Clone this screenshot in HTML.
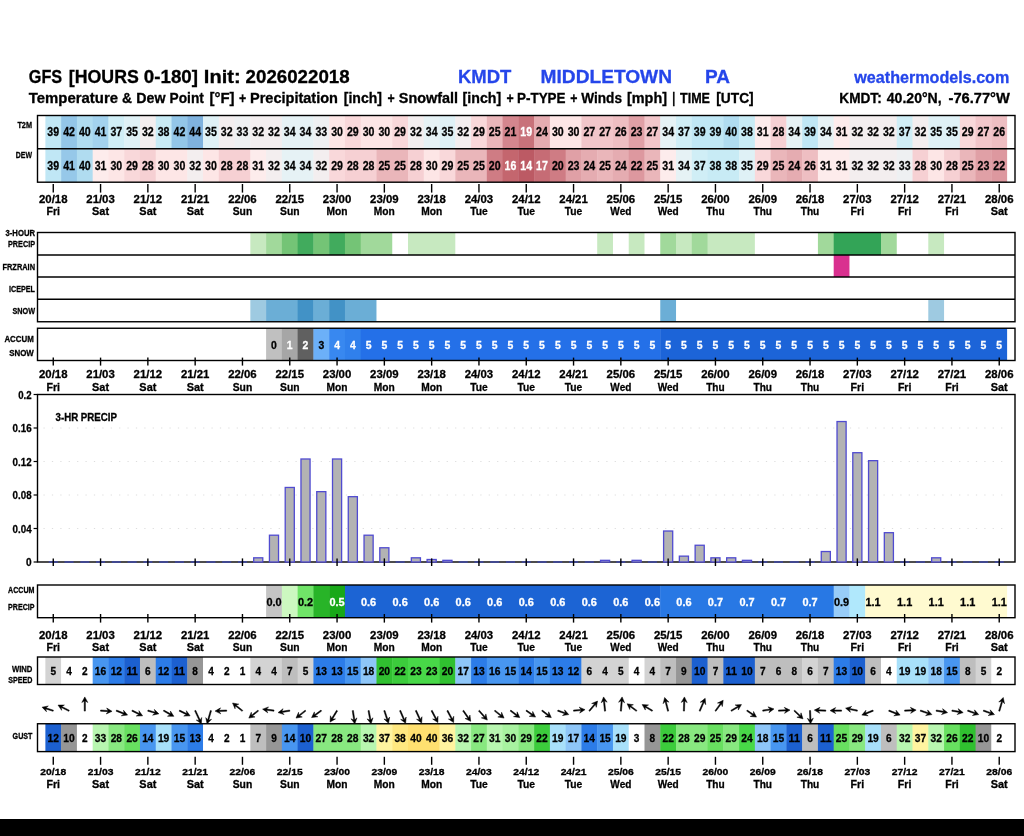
<!DOCTYPE html>
<html lang="en">
<head>
<meta charset="utf-8">
<title>GFS Meteogram KMDT Middletown PA</title>
<style>
html,body{margin:0;padding:0;background:#fff;}
body{width:1024px;height:836px;overflow:hidden;}
svg{display:block;}
svg text{font-family:"Liberation Sans", "DejaVu Sans", sans-serif;}
</style>
</head>
<body>
<svg width="1024" height="836" viewBox="0 0 1024 836">
<rect x="0" y="0" width="1024" height="836" fill="#fff"/>
<rect x="0" y="819" width="1024" height="17" fill="#000"/>
<text x="28.80" y="83.00" font-size="18.6" text-anchor="start" fill="#000" font-weight="bold" textLength="33.40" lengthAdjust="spacingAndGlyphs" stroke="#000" stroke-width="0.3">GFS</text>
<text x="68.80" y="83.00" font-size="18.6" text-anchor="start" fill="#000" font-weight="bold" textLength="70.00" lengthAdjust="spacingAndGlyphs" stroke="#000" stroke-width="0.3">[HOURS</text>
<text x="143.80" y="83.00" font-size="18.6" text-anchor="start" fill="#000" font-weight="bold" textLength="54.20" lengthAdjust="spacingAndGlyphs" stroke="#000" stroke-width="0.3">0-180]</text>
<text x="203.80" y="83.00" font-size="18.6" text-anchor="start" fill="#000" font-weight="bold" textLength="36.80" lengthAdjust="spacingAndGlyphs" stroke="#000" stroke-width="0.3">Init:</text>
<text x="245.60" y="83.00" font-size="18.6" text-anchor="start" fill="#000" font-weight="bold" textLength="104.00" lengthAdjust="spacingAndGlyphs" stroke="#000" stroke-width="0.3">2026022018</text>
<text x="458.00" y="83.00" font-size="18.6" text-anchor="start" fill="#2546ea" font-weight="bold" textLength="53.40" lengthAdjust="spacingAndGlyphs" stroke="#2546ea" stroke-width="0.3">KMDT</text>
<text x="540.60" y="83.00" font-size="18.6" text-anchor="start" fill="#2546ea" font-weight="bold" textLength="131.40" lengthAdjust="spacingAndGlyphs" stroke="#2546ea" stroke-width="0.3">MIDDLETOWN</text>
<text x="705.00" y="83.00" font-size="18.6" text-anchor="start" fill="#2546ea" font-weight="bold" textLength="25.00" lengthAdjust="spacingAndGlyphs" stroke="#2546ea" stroke-width="0.3">PA</text>
<text x="854.30" y="83.00" font-size="16.4" text-anchor="start" fill="#2546ea" font-weight="bold" textLength="155.00" lengthAdjust="spacingAndGlyphs" stroke="#2546ea" stroke-width="0.3">weathermodels.com</text>
<text x="28.80" y="103.20" font-size="14" text-anchor="start" fill="#000" font-weight="bold" textLength="89.20" lengthAdjust="spacingAndGlyphs" stroke="#000" stroke-width="0.3">Temperature</text>
<text x="122.00" y="103.20" font-size="14" text-anchor="start" fill="#000" font-weight="bold" textLength="10.00" lengthAdjust="spacingAndGlyphs" stroke="#000" stroke-width="0.3">&amp;</text>
<text x="136.30" y="103.20" font-size="14" text-anchor="start" fill="#000" font-weight="bold" textLength="29.20" lengthAdjust="spacingAndGlyphs" stroke="#000" stroke-width="0.3">Dew</text>
<text x="169.60" y="103.20" font-size="14" text-anchor="start" fill="#000" font-weight="bold" textLength="34.20" lengthAdjust="spacingAndGlyphs" stroke="#000" stroke-width="0.3">Point</text>
<text x="209.50" y="103.20" font-size="14" text-anchor="start" fill="#000" font-weight="bold" textLength="25.00" lengthAdjust="spacingAndGlyphs" stroke="#000" stroke-width="0.3">[°F]</text>
<text x="239.00" y="103.20" font-size="14" text-anchor="start" fill="#000" font-weight="bold" textLength="7.20" lengthAdjust="spacingAndGlyphs" stroke="#000" stroke-width="0.3">+</text>
<text x="250.00" y="103.20" font-size="14" text-anchor="start" fill="#000" font-weight="bold" textLength="88.00" lengthAdjust="spacingAndGlyphs" stroke="#000" stroke-width="0.3">Precipitation</text>
<text x="343.80" y="103.20" font-size="14" text-anchor="start" fill="#000" font-weight="bold" textLength="38.20" lengthAdjust="spacingAndGlyphs" stroke="#000" stroke-width="0.3">[inch]</text>
<text x="387.60" y="103.20" font-size="14" text-anchor="start" fill="#000" font-weight="bold" textLength="7.20" lengthAdjust="spacingAndGlyphs" stroke="#000" stroke-width="0.3">+</text>
<text x="398.80" y="103.20" font-size="14" text-anchor="start" fill="#000" font-weight="bold" textLength="59.20" lengthAdjust="spacingAndGlyphs" stroke="#000" stroke-width="0.3">Snowfall</text>
<text x="462.60" y="103.20" font-size="14" text-anchor="start" fill="#000" font-weight="bold" textLength="38.60" lengthAdjust="spacingAndGlyphs" stroke="#000" stroke-width="0.3">[inch]</text>
<text x="506.40" y="103.20" font-size="14" text-anchor="start" fill="#000" font-weight="bold" textLength="7.20" lengthAdjust="spacingAndGlyphs" stroke="#000" stroke-width="0.3">+</text>
<text x="517.00" y="103.20" font-size="14" text-anchor="start" fill="#000" font-weight="bold" textLength="48.50" lengthAdjust="spacingAndGlyphs" stroke="#000" stroke-width="0.3">P-TYPE</text>
<text x="570.20" y="103.20" font-size="14" text-anchor="start" fill="#000" font-weight="bold" textLength="7.20" lengthAdjust="spacingAndGlyphs" stroke="#000" stroke-width="0.3">+</text>
<text x="581.30" y="103.20" font-size="14" text-anchor="start" fill="#000" font-weight="bold" textLength="40.70" lengthAdjust="spacingAndGlyphs" stroke="#000" stroke-width="0.3">Winds</text>
<text x="627.00" y="103.20" font-size="14" text-anchor="start" fill="#000" font-weight="bold" textLength="40.00" lengthAdjust="spacingAndGlyphs" stroke="#000" stroke-width="0.3">[mph]</text>
<text x="672.20" y="103.20" font-size="14" text-anchor="start" fill="#000" font-weight="bold" textLength="3.00" lengthAdjust="spacingAndGlyphs" stroke="#000" stroke-width="0.3">|</text>
<text x="680.00" y="103.20" font-size="14" text-anchor="start" fill="#000" font-weight="bold" textLength="30.00" lengthAdjust="spacingAndGlyphs" stroke="#000" stroke-width="0.3">TIME</text>
<text x="716.30" y="103.20" font-size="14" text-anchor="start" fill="#000" font-weight="bold" textLength="37.40" lengthAdjust="spacingAndGlyphs" stroke="#000" stroke-width="0.3">[UTC]</text>
<text x="839.30" y="103.20" font-size="14" text-anchor="start" fill="#000" font-weight="bold" textLength="42.40" lengthAdjust="spacingAndGlyphs" stroke="#000" stroke-width="0.3">KMDT:</text>
<text x="886.80" y="103.20" font-size="14" text-anchor="start" fill="#000" font-weight="bold" textLength="54.90" lengthAdjust="spacingAndGlyphs" stroke="#000" stroke-width="0.3">40.20°N,</text>
<text x="948.50" y="103.20" font-size="14" text-anchor="start" fill="#000" font-weight="bold" textLength="61.30" lengthAdjust="spacingAndGlyphs" stroke="#000" stroke-width="0.3">-76.77°W</text>
<rect x="45.38" y="115.50" width="16.17" height="33.25" fill="#c0e7f5"/>
<rect x="61.15" y="115.50" width="16.17" height="33.25" fill="#93c6e8"/>
<rect x="76.92" y="115.50" width="16.17" height="33.25" fill="#b0dcf0"/>
<rect x="92.68" y="115.50" width="16.17" height="33.25" fill="#a3d2ee"/>
<rect x="108.45" y="115.50" width="16.17" height="33.25" fill="#d0eef6"/>
<rect x="124.21" y="115.50" width="16.17" height="33.25" fill="#dff1f6"/>
<rect x="139.98" y="115.50" width="16.17" height="33.25" fill="#f3eeef"/>
<rect x="155.75" y="115.50" width="16.17" height="33.25" fill="#c8ebf5"/>
<rect x="171.51" y="115.50" width="16.17" height="33.25" fill="#93c6e8"/>
<rect x="187.28" y="115.50" width="16.17" height="33.25" fill="#7fb2de"/>
<rect x="203.04" y="115.50" width="16.17" height="33.25" fill="#dff1f6"/>
<rect x="218.81" y="115.50" width="16.17" height="33.25" fill="#f3eeef"/>
<rect x="234.58" y="115.50" width="16.17" height="33.25" fill="#eef0f2"/>
<rect x="250.34" y="115.50" width="31.93" height="33.25" fill="#f3eeef"/>
<rect x="281.88" y="115.50" width="31.93" height="33.25" fill="#e6f2f5"/>
<rect x="313.41" y="115.50" width="16.17" height="33.25" fill="#eef0f2"/>
<rect x="329.17" y="115.50" width="16.17" height="33.25" fill="#fde6e6"/>
<rect x="344.94" y="115.50" width="16.17" height="33.25" fill="#f9d8da"/>
<rect x="360.71" y="115.50" width="31.93" height="33.25" fill="#fde6e6"/>
<rect x="392.24" y="115.50" width="16.17" height="33.25" fill="#f9d8da"/>
<rect x="408.00" y="115.50" width="16.17" height="33.25" fill="#f3eeef"/>
<rect x="423.77" y="115.50" width="16.17" height="33.25" fill="#e6f2f5"/>
<rect x="439.54" y="115.50" width="16.17" height="33.25" fill="#dff1f6"/>
<rect x="455.30" y="115.50" width="16.17" height="33.25" fill="#f3eeef"/>
<rect x="471.07" y="115.50" width="16.17" height="33.25" fill="#f9d8da"/>
<rect x="486.83" y="115.50" width="16.17" height="33.25" fill="#eab6ba"/>
<rect x="502.60" y="115.50" width="16.17" height="33.25" fill="#d4868e"/>
<rect x="518.37" y="115.50" width="16.17" height="33.25" fill="#c8727a"/>
<rect x="534.13" y="115.50" width="16.17" height="33.25" fill="#e5acb1"/>
<rect x="549.90" y="115.50" width="31.93" height="33.25" fill="#fde6e6"/>
<rect x="581.43" y="115.50" width="31.93" height="33.25" fill="#f2c6ca"/>
<rect x="612.96" y="115.50" width="16.17" height="33.25" fill="#eebec2"/>
<rect x="628.73" y="115.50" width="16.17" height="33.25" fill="#e0a0a6"/>
<rect x="644.50" y="115.50" width="16.17" height="33.25" fill="#f2c6ca"/>
<rect x="660.26" y="115.50" width="16.17" height="33.25" fill="#e6f2f5"/>
<rect x="676.03" y="115.50" width="16.17" height="33.25" fill="#d0eef6"/>
<rect x="691.79" y="115.50" width="31.93" height="33.25" fill="#c0e7f5"/>
<rect x="723.33" y="115.50" width="16.17" height="33.25" fill="#b0dcf0"/>
<rect x="739.09" y="115.50" width="16.17" height="33.25" fill="#c8ebf5"/>
<rect x="754.86" y="115.50" width="16.17" height="33.25" fill="#fdecec"/>
<rect x="770.62" y="115.50" width="16.17" height="33.25" fill="#f6d0d3"/>
<rect x="786.39" y="115.50" width="16.17" height="33.25" fill="#e6f2f5"/>
<rect x="802.16" y="115.50" width="16.17" height="33.25" fill="#c0e7f5"/>
<rect x="817.92" y="115.50" width="16.17" height="33.25" fill="#e6f2f5"/>
<rect x="833.69" y="115.50" width="16.17" height="33.25" fill="#fdecec"/>
<rect x="849.46" y="115.50" width="47.70" height="33.25" fill="#f3eeef"/>
<rect x="896.75" y="115.50" width="16.17" height="33.25" fill="#d0eef6"/>
<rect x="912.52" y="115.50" width="16.17" height="33.25" fill="#f3eeef"/>
<rect x="928.29" y="115.50" width="31.93" height="33.25" fill="#dff1f6"/>
<rect x="959.82" y="115.50" width="16.17" height="33.25" fill="#f9d8da"/>
<rect x="975.58" y="115.50" width="16.17" height="33.25" fill="#f2c6ca"/>
<rect x="991.35" y="115.50" width="15.77" height="33.25" fill="#eebec2"/>
<rect x="45.38" y="148.75" width="16.17" height="33.45" fill="#c0e7f5"/>
<rect x="61.15" y="148.75" width="16.17" height="33.45" fill="#96c8e9"/>
<rect x="76.92" y="148.75" width="16.17" height="33.45" fill="#b0dcf0"/>
<rect x="92.68" y="148.75" width="16.17" height="33.45" fill="#fdecec"/>
<rect x="108.45" y="148.75" width="16.17" height="33.45" fill="#fde6e6"/>
<rect x="124.21" y="148.75" width="16.17" height="33.45" fill="#f9d8da"/>
<rect x="139.98" y="148.75" width="16.17" height="33.45" fill="#f6d0d3"/>
<rect x="155.75" y="148.75" width="31.93" height="33.45" fill="#fde6e6"/>
<rect x="187.28" y="148.75" width="16.17" height="33.45" fill="#f3eeef"/>
<rect x="203.04" y="148.75" width="16.17" height="33.45" fill="#fde6e6"/>
<rect x="218.81" y="148.75" width="31.93" height="33.45" fill="#f6d0d3"/>
<rect x="250.34" y="148.75" width="16.17" height="33.45" fill="#fdecec"/>
<rect x="266.11" y="148.75" width="16.17" height="33.45" fill="#f3eeef"/>
<rect x="281.88" y="148.75" width="31.93" height="33.45" fill="#e6f2f5"/>
<rect x="313.41" y="148.75" width="16.17" height="33.45" fill="#f3eeef"/>
<rect x="329.17" y="148.75" width="16.17" height="33.45" fill="#f9d8da"/>
<rect x="344.94" y="148.75" width="31.93" height="33.45" fill="#f6d0d3"/>
<rect x="376.47" y="148.75" width="31.93" height="33.45" fill="#eab6ba"/>
<rect x="408.00" y="148.75" width="16.17" height="33.45" fill="#f6d0d3"/>
<rect x="423.77" y="148.75" width="16.17" height="33.45" fill="#fde6e6"/>
<rect x="439.54" y="148.75" width="16.17" height="33.45" fill="#f9d8da"/>
<rect x="455.30" y="148.75" width="31.93" height="33.45" fill="#eab6ba"/>
<rect x="486.83" y="148.75" width="16.17" height="33.45" fill="#cf7c84"/>
<rect x="502.60" y="148.75" width="16.17" height="33.45" fill="#c4666e"/>
<rect x="518.37" y="148.75" width="16.17" height="33.45" fill="#bc5a64"/>
<rect x="534.13" y="148.75" width="16.17" height="33.45" fill="#c66c75"/>
<rect x="549.90" y="148.75" width="16.17" height="33.45" fill="#cf7c84"/>
<rect x="565.67" y="148.75" width="16.17" height="33.45" fill="#e0a0a6"/>
<rect x="581.43" y="148.75" width="16.17" height="33.45" fill="#e5acb1"/>
<rect x="597.20" y="148.75" width="16.17" height="33.45" fill="#eab6ba"/>
<rect x="612.96" y="148.75" width="16.17" height="33.45" fill="#e5acb1"/>
<rect x="628.73" y="148.75" width="16.17" height="33.45" fill="#dd989f"/>
<rect x="644.50" y="148.75" width="16.17" height="33.45" fill="#eab6ba"/>
<rect x="660.26" y="148.75" width="16.17" height="33.45" fill="#fdecec"/>
<rect x="676.03" y="148.75" width="16.17" height="33.45" fill="#e6f2f5"/>
<rect x="691.79" y="148.75" width="16.17" height="33.45" fill="#d0eef6"/>
<rect x="707.56" y="148.75" width="31.93" height="33.45" fill="#c8ebf5"/>
<rect x="739.09" y="148.75" width="16.17" height="33.45" fill="#dff1f6"/>
<rect x="754.86" y="148.75" width="16.17" height="33.45" fill="#f9d8da"/>
<rect x="770.62" y="148.75" width="16.17" height="33.45" fill="#eab6ba"/>
<rect x="786.39" y="148.75" width="16.17" height="33.45" fill="#e5acb1"/>
<rect x="802.16" y="148.75" width="16.17" height="33.45" fill="#eebec2"/>
<rect x="817.92" y="148.75" width="31.93" height="33.45" fill="#fdecec"/>
<rect x="849.46" y="148.75" width="47.70" height="33.45" fill="#f3eeef"/>
<rect x="896.75" y="148.75" width="16.17" height="33.45" fill="#eef0f2"/>
<rect x="912.52" y="148.75" width="16.17" height="33.45" fill="#f6d0d3"/>
<rect x="928.29" y="148.75" width="16.17" height="33.45" fill="#fde6e6"/>
<rect x="944.05" y="148.75" width="16.17" height="33.45" fill="#f6d0d3"/>
<rect x="959.82" y="148.75" width="16.17" height="33.45" fill="#eab6ba"/>
<rect x="975.58" y="148.75" width="16.17" height="33.45" fill="#e0a0a6"/>
<rect x="991.35" y="148.75" width="15.77" height="33.45" fill="#dd989f"/>
<rect x="37.50" y="115.50" width="977.50" height="66.70" fill="none" stroke="#000" stroke-width="1.4"/>
<line x1="37.50" y1="148.75" x2="1015.00" y2="148.75" stroke="#000" stroke-width="1.4"/>
<text x="53.27" y="136.30" font-size="13.6" text-anchor="middle" fill="#000" font-weight="bold" textLength="11.80" lengthAdjust="spacingAndGlyphs" stroke="#000" stroke-width="0.3">39</text>
<text x="69.03" y="136.30" font-size="13.6" text-anchor="middle" fill="#000" font-weight="bold" textLength="11.80" lengthAdjust="spacingAndGlyphs" stroke="#000" stroke-width="0.3">42</text>
<text x="84.80" y="136.30" font-size="13.6" text-anchor="middle" fill="#000" font-weight="bold" textLength="11.80" lengthAdjust="spacingAndGlyphs" stroke="#000" stroke-width="0.3">40</text>
<text x="100.56" y="136.30" font-size="13.6" text-anchor="middle" fill="#000" font-weight="bold" textLength="11.80" lengthAdjust="spacingAndGlyphs" stroke="#000" stroke-width="0.3">41</text>
<text x="116.33" y="136.30" font-size="13.6" text-anchor="middle" fill="#000" font-weight="bold" textLength="11.80" lengthAdjust="spacingAndGlyphs" stroke="#000" stroke-width="0.3">37</text>
<text x="132.10" y="136.30" font-size="13.6" text-anchor="middle" fill="#000" font-weight="bold" textLength="11.80" lengthAdjust="spacingAndGlyphs" stroke="#000" stroke-width="0.3">35</text>
<text x="147.86" y="136.30" font-size="13.6" text-anchor="middle" fill="#000" font-weight="bold" textLength="11.80" lengthAdjust="spacingAndGlyphs" stroke="#000" stroke-width="0.3">32</text>
<text x="163.63" y="136.30" font-size="13.6" text-anchor="middle" fill="#000" font-weight="bold" textLength="11.80" lengthAdjust="spacingAndGlyphs" stroke="#000" stroke-width="0.3">38</text>
<text x="179.40" y="136.30" font-size="13.6" text-anchor="middle" fill="#000" font-weight="bold" textLength="11.80" lengthAdjust="spacingAndGlyphs" stroke="#000" stroke-width="0.3">42</text>
<text x="195.16" y="136.30" font-size="13.6" text-anchor="middle" fill="#000" font-weight="bold" textLength="11.80" lengthAdjust="spacingAndGlyphs" stroke="#000" stroke-width="0.3">44</text>
<text x="210.93" y="136.30" font-size="13.6" text-anchor="middle" fill="#000" font-weight="bold" textLength="11.80" lengthAdjust="spacingAndGlyphs" stroke="#000" stroke-width="0.3">35</text>
<text x="226.69" y="136.30" font-size="13.6" text-anchor="middle" fill="#000" font-weight="bold" textLength="11.80" lengthAdjust="spacingAndGlyphs" stroke="#000" stroke-width="0.3">32</text>
<text x="242.46" y="136.30" font-size="13.6" text-anchor="middle" fill="#000" font-weight="bold" textLength="11.80" lengthAdjust="spacingAndGlyphs" stroke="#000" stroke-width="0.3">33</text>
<text x="258.23" y="136.30" font-size="13.6" text-anchor="middle" fill="#000" font-weight="bold" textLength="11.80" lengthAdjust="spacingAndGlyphs" stroke="#000" stroke-width="0.3">32</text>
<text x="273.99" y="136.30" font-size="13.6" text-anchor="middle" fill="#000" font-weight="bold" textLength="11.80" lengthAdjust="spacingAndGlyphs" stroke="#000" stroke-width="0.3">32</text>
<text x="289.76" y="136.30" font-size="13.6" text-anchor="middle" fill="#000" font-weight="bold" textLength="11.80" lengthAdjust="spacingAndGlyphs" stroke="#000" stroke-width="0.3">34</text>
<text x="305.52" y="136.30" font-size="13.6" text-anchor="middle" fill="#000" font-weight="bold" textLength="11.80" lengthAdjust="spacingAndGlyphs" stroke="#000" stroke-width="0.3">34</text>
<text x="321.29" y="136.30" font-size="13.6" text-anchor="middle" fill="#000" font-weight="bold" textLength="11.80" lengthAdjust="spacingAndGlyphs" stroke="#000" stroke-width="0.3">33</text>
<text x="337.06" y="136.30" font-size="13.6" text-anchor="middle" fill="#000" font-weight="bold" textLength="11.80" lengthAdjust="spacingAndGlyphs" stroke="#000" stroke-width="0.3">30</text>
<text x="352.82" y="136.30" font-size="13.6" text-anchor="middle" fill="#000" font-weight="bold" textLength="11.80" lengthAdjust="spacingAndGlyphs" stroke="#000" stroke-width="0.3">29</text>
<text x="368.59" y="136.30" font-size="13.6" text-anchor="middle" fill="#000" font-weight="bold" textLength="11.80" lengthAdjust="spacingAndGlyphs" stroke="#000" stroke-width="0.3">30</text>
<text x="384.35" y="136.30" font-size="13.6" text-anchor="middle" fill="#000" font-weight="bold" textLength="11.80" lengthAdjust="spacingAndGlyphs" stroke="#000" stroke-width="0.3">30</text>
<text x="400.12" y="136.30" font-size="13.6" text-anchor="middle" fill="#000" font-weight="bold" textLength="11.80" lengthAdjust="spacingAndGlyphs" stroke="#000" stroke-width="0.3">29</text>
<text x="415.89" y="136.30" font-size="13.6" text-anchor="middle" fill="#000" font-weight="bold" textLength="11.80" lengthAdjust="spacingAndGlyphs" stroke="#000" stroke-width="0.3">32</text>
<text x="431.65" y="136.30" font-size="13.6" text-anchor="middle" fill="#000" font-weight="bold" textLength="11.80" lengthAdjust="spacingAndGlyphs" stroke="#000" stroke-width="0.3">34</text>
<text x="447.42" y="136.30" font-size="13.6" text-anchor="middle" fill="#000" font-weight="bold" textLength="11.80" lengthAdjust="spacingAndGlyphs" stroke="#000" stroke-width="0.3">35</text>
<text x="463.19" y="136.30" font-size="13.6" text-anchor="middle" fill="#000" font-weight="bold" textLength="11.80" lengthAdjust="spacingAndGlyphs" stroke="#000" stroke-width="0.3">32</text>
<text x="478.95" y="136.30" font-size="13.6" text-anchor="middle" fill="#000" font-weight="bold" textLength="11.80" lengthAdjust="spacingAndGlyphs" stroke="#000" stroke-width="0.3">29</text>
<text x="494.72" y="136.30" font-size="13.6" text-anchor="middle" fill="#000" font-weight="bold" textLength="11.80" lengthAdjust="spacingAndGlyphs" stroke="#000" stroke-width="0.3">25</text>
<text x="510.48" y="136.30" font-size="13.6" text-anchor="middle" fill="#000" font-weight="bold" textLength="11.80" lengthAdjust="spacingAndGlyphs" stroke="#000" stroke-width="0.3">21</text>
<text x="526.25" y="136.30" font-size="13.6" text-anchor="middle" fill="#fff" font-weight="bold" textLength="11.80" lengthAdjust="spacingAndGlyphs" stroke="#fff" stroke-width="0.3">19</text>
<text x="542.02" y="136.30" font-size="13.6" text-anchor="middle" fill="#000" font-weight="bold" textLength="11.80" lengthAdjust="spacingAndGlyphs" stroke="#000" stroke-width="0.3">24</text>
<text x="557.78" y="136.30" font-size="13.6" text-anchor="middle" fill="#000" font-weight="bold" textLength="11.80" lengthAdjust="spacingAndGlyphs" stroke="#000" stroke-width="0.3">30</text>
<text x="573.55" y="136.30" font-size="13.6" text-anchor="middle" fill="#000" font-weight="bold" textLength="11.80" lengthAdjust="spacingAndGlyphs" stroke="#000" stroke-width="0.3">30</text>
<text x="589.31" y="136.30" font-size="13.6" text-anchor="middle" fill="#000" font-weight="bold" textLength="11.80" lengthAdjust="spacingAndGlyphs" stroke="#000" stroke-width="0.3">27</text>
<text x="605.08" y="136.30" font-size="13.6" text-anchor="middle" fill="#000" font-weight="bold" textLength="11.80" lengthAdjust="spacingAndGlyphs" stroke="#000" stroke-width="0.3">27</text>
<text x="620.85" y="136.30" font-size="13.6" text-anchor="middle" fill="#000" font-weight="bold" textLength="11.80" lengthAdjust="spacingAndGlyphs" stroke="#000" stroke-width="0.3">26</text>
<text x="636.61" y="136.30" font-size="13.6" text-anchor="middle" fill="#000" font-weight="bold" textLength="11.80" lengthAdjust="spacingAndGlyphs" stroke="#000" stroke-width="0.3">23</text>
<text x="652.38" y="136.30" font-size="13.6" text-anchor="middle" fill="#000" font-weight="bold" textLength="11.80" lengthAdjust="spacingAndGlyphs" stroke="#000" stroke-width="0.3">27</text>
<text x="668.15" y="136.30" font-size="13.6" text-anchor="middle" fill="#000" font-weight="bold" textLength="11.80" lengthAdjust="spacingAndGlyphs" stroke="#000" stroke-width="0.3">34</text>
<text x="683.91" y="136.30" font-size="13.6" text-anchor="middle" fill="#000" font-weight="bold" textLength="11.80" lengthAdjust="spacingAndGlyphs" stroke="#000" stroke-width="0.3">37</text>
<text x="699.68" y="136.30" font-size="13.6" text-anchor="middle" fill="#000" font-weight="bold" textLength="11.80" lengthAdjust="spacingAndGlyphs" stroke="#000" stroke-width="0.3">39</text>
<text x="715.44" y="136.30" font-size="13.6" text-anchor="middle" fill="#000" font-weight="bold" textLength="11.80" lengthAdjust="spacingAndGlyphs" stroke="#000" stroke-width="0.3">39</text>
<text x="731.21" y="136.30" font-size="13.6" text-anchor="middle" fill="#000" font-weight="bold" textLength="11.80" lengthAdjust="spacingAndGlyphs" stroke="#000" stroke-width="0.3">40</text>
<text x="746.98" y="136.30" font-size="13.6" text-anchor="middle" fill="#000" font-weight="bold" textLength="11.80" lengthAdjust="spacingAndGlyphs" stroke="#000" stroke-width="0.3">38</text>
<text x="762.74" y="136.30" font-size="13.6" text-anchor="middle" fill="#000" font-weight="bold" textLength="11.80" lengthAdjust="spacingAndGlyphs" stroke="#000" stroke-width="0.3">31</text>
<text x="778.51" y="136.30" font-size="13.6" text-anchor="middle" fill="#000" font-weight="bold" textLength="11.80" lengthAdjust="spacingAndGlyphs" stroke="#000" stroke-width="0.3">28</text>
<text x="794.27" y="136.30" font-size="13.6" text-anchor="middle" fill="#000" font-weight="bold" textLength="11.80" lengthAdjust="spacingAndGlyphs" stroke="#000" stroke-width="0.3">34</text>
<text x="810.04" y="136.30" font-size="13.6" text-anchor="middle" fill="#000" font-weight="bold" textLength="11.80" lengthAdjust="spacingAndGlyphs" stroke="#000" stroke-width="0.3">39</text>
<text x="825.81" y="136.30" font-size="13.6" text-anchor="middle" fill="#000" font-weight="bold" textLength="11.80" lengthAdjust="spacingAndGlyphs" stroke="#000" stroke-width="0.3">34</text>
<text x="841.57" y="136.30" font-size="13.6" text-anchor="middle" fill="#000" font-weight="bold" textLength="11.80" lengthAdjust="spacingAndGlyphs" stroke="#000" stroke-width="0.3">31</text>
<text x="857.34" y="136.30" font-size="13.6" text-anchor="middle" fill="#000" font-weight="bold" textLength="11.80" lengthAdjust="spacingAndGlyphs" stroke="#000" stroke-width="0.3">32</text>
<text x="873.10" y="136.30" font-size="13.6" text-anchor="middle" fill="#000" font-weight="bold" textLength="11.80" lengthAdjust="spacingAndGlyphs" stroke="#000" stroke-width="0.3">32</text>
<text x="888.87" y="136.30" font-size="13.6" text-anchor="middle" fill="#000" font-weight="bold" textLength="11.80" lengthAdjust="spacingAndGlyphs" stroke="#000" stroke-width="0.3">32</text>
<text x="904.64" y="136.30" font-size="13.6" text-anchor="middle" fill="#000" font-weight="bold" textLength="11.80" lengthAdjust="spacingAndGlyphs" stroke="#000" stroke-width="0.3">37</text>
<text x="920.40" y="136.30" font-size="13.6" text-anchor="middle" fill="#000" font-weight="bold" textLength="11.80" lengthAdjust="spacingAndGlyphs" stroke="#000" stroke-width="0.3">32</text>
<text x="936.17" y="136.30" font-size="13.6" text-anchor="middle" fill="#000" font-weight="bold" textLength="11.80" lengthAdjust="spacingAndGlyphs" stroke="#000" stroke-width="0.3">35</text>
<text x="951.94" y="136.30" font-size="13.6" text-anchor="middle" fill="#000" font-weight="bold" textLength="11.80" lengthAdjust="spacingAndGlyphs" stroke="#000" stroke-width="0.3">35</text>
<text x="967.70" y="136.30" font-size="13.6" text-anchor="middle" fill="#000" font-weight="bold" textLength="11.80" lengthAdjust="spacingAndGlyphs" stroke="#000" stroke-width="0.3">29</text>
<text x="983.47" y="136.30" font-size="13.6" text-anchor="middle" fill="#000" font-weight="bold" textLength="11.80" lengthAdjust="spacingAndGlyphs" stroke="#000" stroke-width="0.3">27</text>
<text x="999.23" y="136.30" font-size="13.6" text-anchor="middle" fill="#000" font-weight="bold" textLength="11.80" lengthAdjust="spacingAndGlyphs" stroke="#000" stroke-width="0.3">26</text>
<text x="53.27" y="169.70" font-size="13.6" text-anchor="middle" fill="#000" font-weight="bold" textLength="11.80" lengthAdjust="spacingAndGlyphs" stroke="#000" stroke-width="0.3">39</text>
<text x="69.03" y="169.70" font-size="13.6" text-anchor="middle" fill="#000" font-weight="bold" textLength="11.80" lengthAdjust="spacingAndGlyphs" stroke="#000" stroke-width="0.3">41</text>
<text x="84.80" y="169.70" font-size="13.6" text-anchor="middle" fill="#000" font-weight="bold" textLength="11.80" lengthAdjust="spacingAndGlyphs" stroke="#000" stroke-width="0.3">40</text>
<text x="100.56" y="169.70" font-size="13.6" text-anchor="middle" fill="#000" font-weight="bold" textLength="11.80" lengthAdjust="spacingAndGlyphs" stroke="#000" stroke-width="0.3">31</text>
<text x="116.33" y="169.70" font-size="13.6" text-anchor="middle" fill="#000" font-weight="bold" textLength="11.80" lengthAdjust="spacingAndGlyphs" stroke="#000" stroke-width="0.3">30</text>
<text x="132.10" y="169.70" font-size="13.6" text-anchor="middle" fill="#000" font-weight="bold" textLength="11.80" lengthAdjust="spacingAndGlyphs" stroke="#000" stroke-width="0.3">29</text>
<text x="147.86" y="169.70" font-size="13.6" text-anchor="middle" fill="#000" font-weight="bold" textLength="11.80" lengthAdjust="spacingAndGlyphs" stroke="#000" stroke-width="0.3">28</text>
<text x="163.63" y="169.70" font-size="13.6" text-anchor="middle" fill="#000" font-weight="bold" textLength="11.80" lengthAdjust="spacingAndGlyphs" stroke="#000" stroke-width="0.3">30</text>
<text x="179.40" y="169.70" font-size="13.6" text-anchor="middle" fill="#000" font-weight="bold" textLength="11.80" lengthAdjust="spacingAndGlyphs" stroke="#000" stroke-width="0.3">30</text>
<text x="195.16" y="169.70" font-size="13.6" text-anchor="middle" fill="#000" font-weight="bold" textLength="11.80" lengthAdjust="spacingAndGlyphs" stroke="#000" stroke-width="0.3">32</text>
<text x="210.93" y="169.70" font-size="13.6" text-anchor="middle" fill="#000" font-weight="bold" textLength="11.80" lengthAdjust="spacingAndGlyphs" stroke="#000" stroke-width="0.3">30</text>
<text x="226.69" y="169.70" font-size="13.6" text-anchor="middle" fill="#000" font-weight="bold" textLength="11.80" lengthAdjust="spacingAndGlyphs" stroke="#000" stroke-width="0.3">28</text>
<text x="242.46" y="169.70" font-size="13.6" text-anchor="middle" fill="#000" font-weight="bold" textLength="11.80" lengthAdjust="spacingAndGlyphs" stroke="#000" stroke-width="0.3">28</text>
<text x="258.23" y="169.70" font-size="13.6" text-anchor="middle" fill="#000" font-weight="bold" textLength="11.80" lengthAdjust="spacingAndGlyphs" stroke="#000" stroke-width="0.3">31</text>
<text x="273.99" y="169.70" font-size="13.6" text-anchor="middle" fill="#000" font-weight="bold" textLength="11.80" lengthAdjust="spacingAndGlyphs" stroke="#000" stroke-width="0.3">32</text>
<text x="289.76" y="169.70" font-size="13.6" text-anchor="middle" fill="#000" font-weight="bold" textLength="11.80" lengthAdjust="spacingAndGlyphs" stroke="#000" stroke-width="0.3">34</text>
<text x="305.52" y="169.70" font-size="13.6" text-anchor="middle" fill="#000" font-weight="bold" textLength="11.80" lengthAdjust="spacingAndGlyphs" stroke="#000" stroke-width="0.3">34</text>
<text x="321.29" y="169.70" font-size="13.6" text-anchor="middle" fill="#000" font-weight="bold" textLength="11.80" lengthAdjust="spacingAndGlyphs" stroke="#000" stroke-width="0.3">32</text>
<text x="337.06" y="169.70" font-size="13.6" text-anchor="middle" fill="#000" font-weight="bold" textLength="11.80" lengthAdjust="spacingAndGlyphs" stroke="#000" stroke-width="0.3">29</text>
<text x="352.82" y="169.70" font-size="13.6" text-anchor="middle" fill="#000" font-weight="bold" textLength="11.80" lengthAdjust="spacingAndGlyphs" stroke="#000" stroke-width="0.3">28</text>
<text x="368.59" y="169.70" font-size="13.6" text-anchor="middle" fill="#000" font-weight="bold" textLength="11.80" lengthAdjust="spacingAndGlyphs" stroke="#000" stroke-width="0.3">28</text>
<text x="384.35" y="169.70" font-size="13.6" text-anchor="middle" fill="#000" font-weight="bold" textLength="11.80" lengthAdjust="spacingAndGlyphs" stroke="#000" stroke-width="0.3">25</text>
<text x="400.12" y="169.70" font-size="13.6" text-anchor="middle" fill="#000" font-weight="bold" textLength="11.80" lengthAdjust="spacingAndGlyphs" stroke="#000" stroke-width="0.3">25</text>
<text x="415.89" y="169.70" font-size="13.6" text-anchor="middle" fill="#000" font-weight="bold" textLength="11.80" lengthAdjust="spacingAndGlyphs" stroke="#000" stroke-width="0.3">28</text>
<text x="431.65" y="169.70" font-size="13.6" text-anchor="middle" fill="#000" font-weight="bold" textLength="11.80" lengthAdjust="spacingAndGlyphs" stroke="#000" stroke-width="0.3">30</text>
<text x="447.42" y="169.70" font-size="13.6" text-anchor="middle" fill="#000" font-weight="bold" textLength="11.80" lengthAdjust="spacingAndGlyphs" stroke="#000" stroke-width="0.3">29</text>
<text x="463.19" y="169.70" font-size="13.6" text-anchor="middle" fill="#000" font-weight="bold" textLength="11.80" lengthAdjust="spacingAndGlyphs" stroke="#000" stroke-width="0.3">25</text>
<text x="478.95" y="169.70" font-size="13.6" text-anchor="middle" fill="#000" font-weight="bold" textLength="11.80" lengthAdjust="spacingAndGlyphs" stroke="#000" stroke-width="0.3">25</text>
<text x="494.72" y="169.70" font-size="13.6" text-anchor="middle" fill="#000" font-weight="bold" textLength="11.80" lengthAdjust="spacingAndGlyphs" stroke="#000" stroke-width="0.3">20</text>
<text x="510.48" y="169.70" font-size="13.6" text-anchor="middle" fill="#fff" font-weight="bold" textLength="11.80" lengthAdjust="spacingAndGlyphs" stroke="#fff" stroke-width="0.3">16</text>
<text x="526.25" y="169.70" font-size="13.6" text-anchor="middle" fill="#fff" font-weight="bold" textLength="11.80" lengthAdjust="spacingAndGlyphs" stroke="#fff" stroke-width="0.3">14</text>
<text x="542.02" y="169.70" font-size="13.6" text-anchor="middle" fill="#fff" font-weight="bold" textLength="11.80" lengthAdjust="spacingAndGlyphs" stroke="#fff" stroke-width="0.3">17</text>
<text x="557.78" y="169.70" font-size="13.6" text-anchor="middle" fill="#000" font-weight="bold" textLength="11.80" lengthAdjust="spacingAndGlyphs" stroke="#000" stroke-width="0.3">20</text>
<text x="573.55" y="169.70" font-size="13.6" text-anchor="middle" fill="#000" font-weight="bold" textLength="11.80" lengthAdjust="spacingAndGlyphs" stroke="#000" stroke-width="0.3">23</text>
<text x="589.31" y="169.70" font-size="13.6" text-anchor="middle" fill="#000" font-weight="bold" textLength="11.80" lengthAdjust="spacingAndGlyphs" stroke="#000" stroke-width="0.3">24</text>
<text x="605.08" y="169.70" font-size="13.6" text-anchor="middle" fill="#000" font-weight="bold" textLength="11.80" lengthAdjust="spacingAndGlyphs" stroke="#000" stroke-width="0.3">25</text>
<text x="620.85" y="169.70" font-size="13.6" text-anchor="middle" fill="#000" font-weight="bold" textLength="11.80" lengthAdjust="spacingAndGlyphs" stroke="#000" stroke-width="0.3">24</text>
<text x="636.61" y="169.70" font-size="13.6" text-anchor="middle" fill="#000" font-weight="bold" textLength="11.80" lengthAdjust="spacingAndGlyphs" stroke="#000" stroke-width="0.3">22</text>
<text x="652.38" y="169.70" font-size="13.6" text-anchor="middle" fill="#000" font-weight="bold" textLength="11.80" lengthAdjust="spacingAndGlyphs" stroke="#000" stroke-width="0.3">25</text>
<text x="668.15" y="169.70" font-size="13.6" text-anchor="middle" fill="#000" font-weight="bold" textLength="11.80" lengthAdjust="spacingAndGlyphs" stroke="#000" stroke-width="0.3">31</text>
<text x="683.91" y="169.70" font-size="13.6" text-anchor="middle" fill="#000" font-weight="bold" textLength="11.80" lengthAdjust="spacingAndGlyphs" stroke="#000" stroke-width="0.3">34</text>
<text x="699.68" y="169.70" font-size="13.6" text-anchor="middle" fill="#000" font-weight="bold" textLength="11.80" lengthAdjust="spacingAndGlyphs" stroke="#000" stroke-width="0.3">37</text>
<text x="715.44" y="169.70" font-size="13.6" text-anchor="middle" fill="#000" font-weight="bold" textLength="11.80" lengthAdjust="spacingAndGlyphs" stroke="#000" stroke-width="0.3">38</text>
<text x="731.21" y="169.70" font-size="13.6" text-anchor="middle" fill="#000" font-weight="bold" textLength="11.80" lengthAdjust="spacingAndGlyphs" stroke="#000" stroke-width="0.3">38</text>
<text x="746.98" y="169.70" font-size="13.6" text-anchor="middle" fill="#000" font-weight="bold" textLength="11.80" lengthAdjust="spacingAndGlyphs" stroke="#000" stroke-width="0.3">35</text>
<text x="762.74" y="169.70" font-size="13.6" text-anchor="middle" fill="#000" font-weight="bold" textLength="11.80" lengthAdjust="spacingAndGlyphs" stroke="#000" stroke-width="0.3">29</text>
<text x="778.51" y="169.70" font-size="13.6" text-anchor="middle" fill="#000" font-weight="bold" textLength="11.80" lengthAdjust="spacingAndGlyphs" stroke="#000" stroke-width="0.3">25</text>
<text x="794.27" y="169.70" font-size="13.6" text-anchor="middle" fill="#000" font-weight="bold" textLength="11.80" lengthAdjust="spacingAndGlyphs" stroke="#000" stroke-width="0.3">24</text>
<text x="810.04" y="169.70" font-size="13.6" text-anchor="middle" fill="#000" font-weight="bold" textLength="11.80" lengthAdjust="spacingAndGlyphs" stroke="#000" stroke-width="0.3">26</text>
<text x="825.81" y="169.70" font-size="13.6" text-anchor="middle" fill="#000" font-weight="bold" textLength="11.80" lengthAdjust="spacingAndGlyphs" stroke="#000" stroke-width="0.3">31</text>
<text x="841.57" y="169.70" font-size="13.6" text-anchor="middle" fill="#000" font-weight="bold" textLength="11.80" lengthAdjust="spacingAndGlyphs" stroke="#000" stroke-width="0.3">31</text>
<text x="857.34" y="169.70" font-size="13.6" text-anchor="middle" fill="#000" font-weight="bold" textLength="11.80" lengthAdjust="spacingAndGlyphs" stroke="#000" stroke-width="0.3">32</text>
<text x="873.10" y="169.70" font-size="13.6" text-anchor="middle" fill="#000" font-weight="bold" textLength="11.80" lengthAdjust="spacingAndGlyphs" stroke="#000" stroke-width="0.3">32</text>
<text x="888.87" y="169.70" font-size="13.6" text-anchor="middle" fill="#000" font-weight="bold" textLength="11.80" lengthAdjust="spacingAndGlyphs" stroke="#000" stroke-width="0.3">32</text>
<text x="904.64" y="169.70" font-size="13.6" text-anchor="middle" fill="#000" font-weight="bold" textLength="11.80" lengthAdjust="spacingAndGlyphs" stroke="#000" stroke-width="0.3">33</text>
<text x="920.40" y="169.70" font-size="13.6" text-anchor="middle" fill="#000" font-weight="bold" textLength="11.80" lengthAdjust="spacingAndGlyphs" stroke="#000" stroke-width="0.3">28</text>
<text x="936.17" y="169.70" font-size="13.6" text-anchor="middle" fill="#000" font-weight="bold" textLength="11.80" lengthAdjust="spacingAndGlyphs" stroke="#000" stroke-width="0.3">30</text>
<text x="951.94" y="169.70" font-size="13.6" text-anchor="middle" fill="#000" font-weight="bold" textLength="11.80" lengthAdjust="spacingAndGlyphs" stroke="#000" stroke-width="0.3">28</text>
<text x="967.70" y="169.70" font-size="13.6" text-anchor="middle" fill="#000" font-weight="bold" textLength="11.80" lengthAdjust="spacingAndGlyphs" stroke="#000" stroke-width="0.3">25</text>
<text x="983.47" y="169.70" font-size="13.6" text-anchor="middle" fill="#000" font-weight="bold" textLength="11.80" lengthAdjust="spacingAndGlyphs" stroke="#000" stroke-width="0.3">23</text>
<text x="999.23" y="169.70" font-size="13.6" text-anchor="middle" fill="#000" font-weight="bold" textLength="11.80" lengthAdjust="spacingAndGlyphs" stroke="#000" stroke-width="0.3">22</text>
<text x="32.00" y="127.60" font-size="9.3" text-anchor="end" fill="#000" font-weight="bold" textLength="14.60" lengthAdjust="spacingAndGlyphs" stroke="#000" stroke-width="0.3">T2M</text>
<text x="32.00" y="157.80" font-size="9.3" text-anchor="end" fill="#000" font-weight="bold" textLength="16.20" lengthAdjust="spacingAndGlyphs" stroke="#000" stroke-width="0.3">DEW</text>
<line x1="53.27" y1="184.00" x2="53.27" y2="192.60" stroke="#000" stroke-width="1.4"/>
<line x1="100.56" y1="184.00" x2="100.56" y2="192.60" stroke="#000" stroke-width="1.4"/>
<line x1="147.86" y1="184.00" x2="147.86" y2="192.60" stroke="#000" stroke-width="1.4"/>
<line x1="195.16" y1="184.00" x2="195.16" y2="192.60" stroke="#000" stroke-width="1.4"/>
<line x1="242.46" y1="184.00" x2="242.46" y2="192.60" stroke="#000" stroke-width="1.4"/>
<line x1="289.76" y1="184.00" x2="289.76" y2="192.60" stroke="#000" stroke-width="1.4"/>
<line x1="337.06" y1="184.00" x2="337.06" y2="192.60" stroke="#000" stroke-width="1.4"/>
<line x1="384.35" y1="184.00" x2="384.35" y2="192.60" stroke="#000" stroke-width="1.4"/>
<line x1="431.65" y1="184.00" x2="431.65" y2="192.60" stroke="#000" stroke-width="1.4"/>
<line x1="478.95" y1="184.00" x2="478.95" y2="192.60" stroke="#000" stroke-width="1.4"/>
<line x1="526.25" y1="184.00" x2="526.25" y2="192.60" stroke="#000" stroke-width="1.4"/>
<line x1="573.55" y1="184.00" x2="573.55" y2="192.60" stroke="#000" stroke-width="1.4"/>
<line x1="620.85" y1="184.00" x2="620.85" y2="192.60" stroke="#000" stroke-width="1.4"/>
<line x1="668.15" y1="184.00" x2="668.15" y2="192.60" stroke="#000" stroke-width="1.4"/>
<line x1="715.44" y1="184.00" x2="715.44" y2="192.60" stroke="#000" stroke-width="1.4"/>
<line x1="762.74" y1="184.00" x2="762.74" y2="192.60" stroke="#000" stroke-width="1.4"/>
<line x1="810.04" y1="184.00" x2="810.04" y2="192.60" stroke="#000" stroke-width="1.4"/>
<line x1="857.34" y1="184.00" x2="857.34" y2="192.60" stroke="#000" stroke-width="1.4"/>
<line x1="904.64" y1="184.00" x2="904.64" y2="192.60" stroke="#000" stroke-width="1.4"/>
<line x1="951.94" y1="184.00" x2="951.94" y2="192.60" stroke="#000" stroke-width="1.4"/>
<line x1="999.23" y1="184.00" x2="999.23" y2="192.60" stroke="#000" stroke-width="1.4"/>
<text x="53.27" y="203.20" font-size="11.8" text-anchor="middle" fill="#000" font-weight="bold" textLength="28.50" lengthAdjust="spacingAndGlyphs" stroke="#000" stroke-width="0.3">20/18</text>
<text x="53.27" y="215.30" font-size="11.0" text-anchor="middle" fill="#000" font-weight="bold" textLength="13.50" lengthAdjust="spacingAndGlyphs" stroke="#000" stroke-width="0.3">Fri</text>
<text x="100.56" y="203.20" font-size="11.8" text-anchor="middle" fill="#000" font-weight="bold" textLength="28.50" lengthAdjust="spacingAndGlyphs" stroke="#000" stroke-width="0.3">21/03</text>
<text x="100.56" y="215.30" font-size="11.0" text-anchor="middle" fill="#000" font-weight="bold" textLength="17.00" lengthAdjust="spacingAndGlyphs" stroke="#000" stroke-width="0.3">Sat</text>
<text x="147.86" y="203.20" font-size="11.8" text-anchor="middle" fill="#000" font-weight="bold" textLength="28.50" lengthAdjust="spacingAndGlyphs" stroke="#000" stroke-width="0.3">21/12</text>
<text x="147.86" y="215.30" font-size="11.0" text-anchor="middle" fill="#000" font-weight="bold" textLength="17.00" lengthAdjust="spacingAndGlyphs" stroke="#000" stroke-width="0.3">Sat</text>
<text x="195.16" y="203.20" font-size="11.8" text-anchor="middle" fill="#000" font-weight="bold" textLength="28.50" lengthAdjust="spacingAndGlyphs" stroke="#000" stroke-width="0.3">21/21</text>
<text x="195.16" y="215.30" font-size="11.0" text-anchor="middle" fill="#000" font-weight="bold" textLength="17.00" lengthAdjust="spacingAndGlyphs" stroke="#000" stroke-width="0.3">Sat</text>
<text x="242.46" y="203.20" font-size="11.8" text-anchor="middle" fill="#000" font-weight="bold" textLength="28.50" lengthAdjust="spacingAndGlyphs" stroke="#000" stroke-width="0.3">22/06</text>
<text x="242.46" y="215.30" font-size="11.0" text-anchor="middle" fill="#000" font-weight="bold" textLength="19.50" lengthAdjust="spacingAndGlyphs" stroke="#000" stroke-width="0.3">Sun</text>
<text x="289.76" y="203.20" font-size="11.8" text-anchor="middle" fill="#000" font-weight="bold" textLength="28.50" lengthAdjust="spacingAndGlyphs" stroke="#000" stroke-width="0.3">22/15</text>
<text x="289.76" y="215.30" font-size="11.0" text-anchor="middle" fill="#000" font-weight="bold" textLength="19.50" lengthAdjust="spacingAndGlyphs" stroke="#000" stroke-width="0.3">Sun</text>
<text x="337.06" y="203.20" font-size="11.8" text-anchor="middle" fill="#000" font-weight="bold" textLength="28.50" lengthAdjust="spacingAndGlyphs" stroke="#000" stroke-width="0.3">23/00</text>
<text x="337.06" y="215.30" font-size="11.0" text-anchor="middle" fill="#000" font-weight="bold" textLength="21.00" lengthAdjust="spacingAndGlyphs" stroke="#000" stroke-width="0.3">Mon</text>
<text x="384.35" y="203.20" font-size="11.8" text-anchor="middle" fill="#000" font-weight="bold" textLength="28.50" lengthAdjust="spacingAndGlyphs" stroke="#000" stroke-width="0.3">23/09</text>
<text x="384.35" y="215.30" font-size="11.0" text-anchor="middle" fill="#000" font-weight="bold" textLength="21.00" lengthAdjust="spacingAndGlyphs" stroke="#000" stroke-width="0.3">Mon</text>
<text x="431.65" y="203.20" font-size="11.8" text-anchor="middle" fill="#000" font-weight="bold" textLength="28.50" lengthAdjust="spacingAndGlyphs" stroke="#000" stroke-width="0.3">23/18</text>
<text x="431.65" y="215.30" font-size="11.0" text-anchor="middle" fill="#000" font-weight="bold" textLength="21.00" lengthAdjust="spacingAndGlyphs" stroke="#000" stroke-width="0.3">Mon</text>
<text x="478.95" y="203.20" font-size="11.8" text-anchor="middle" fill="#000" font-weight="bold" textLength="28.50" lengthAdjust="spacingAndGlyphs" stroke="#000" stroke-width="0.3">24/03</text>
<text x="478.95" y="215.30" font-size="11.0" text-anchor="middle" fill="#000" font-weight="bold" textLength="17.50" lengthAdjust="spacingAndGlyphs" stroke="#000" stroke-width="0.3">Tue</text>
<text x="526.25" y="203.20" font-size="11.8" text-anchor="middle" fill="#000" font-weight="bold" textLength="28.50" lengthAdjust="spacingAndGlyphs" stroke="#000" stroke-width="0.3">24/12</text>
<text x="526.25" y="215.30" font-size="11.0" text-anchor="middle" fill="#000" font-weight="bold" textLength="17.50" lengthAdjust="spacingAndGlyphs" stroke="#000" stroke-width="0.3">Tue</text>
<text x="573.55" y="203.20" font-size="11.8" text-anchor="middle" fill="#000" font-weight="bold" textLength="28.50" lengthAdjust="spacingAndGlyphs" stroke="#000" stroke-width="0.3">24/21</text>
<text x="573.55" y="215.30" font-size="11.0" text-anchor="middle" fill="#000" font-weight="bold" textLength="17.50" lengthAdjust="spacingAndGlyphs" stroke="#000" stroke-width="0.3">Tue</text>
<text x="620.85" y="203.20" font-size="11.8" text-anchor="middle" fill="#000" font-weight="bold" textLength="28.50" lengthAdjust="spacingAndGlyphs" stroke="#000" stroke-width="0.3">25/06</text>
<text x="620.85" y="215.30" font-size="11.0" text-anchor="middle" fill="#000" font-weight="bold" textLength="21.00" lengthAdjust="spacingAndGlyphs" stroke="#000" stroke-width="0.3">Wed</text>
<text x="668.15" y="203.20" font-size="11.8" text-anchor="middle" fill="#000" font-weight="bold" textLength="28.50" lengthAdjust="spacingAndGlyphs" stroke="#000" stroke-width="0.3">25/15</text>
<text x="668.15" y="215.30" font-size="11.0" text-anchor="middle" fill="#000" font-weight="bold" textLength="21.00" lengthAdjust="spacingAndGlyphs" stroke="#000" stroke-width="0.3">Wed</text>
<text x="715.44" y="203.20" font-size="11.8" text-anchor="middle" fill="#000" font-weight="bold" textLength="28.50" lengthAdjust="spacingAndGlyphs" stroke="#000" stroke-width="0.3">26/00</text>
<text x="715.44" y="215.30" font-size="11.0" text-anchor="middle" fill="#000" font-weight="bold" textLength="18.50" lengthAdjust="spacingAndGlyphs" stroke="#000" stroke-width="0.3">Thu</text>
<text x="762.74" y="203.20" font-size="11.8" text-anchor="middle" fill="#000" font-weight="bold" textLength="28.50" lengthAdjust="spacingAndGlyphs" stroke="#000" stroke-width="0.3">26/09</text>
<text x="762.74" y="215.30" font-size="11.0" text-anchor="middle" fill="#000" font-weight="bold" textLength="18.50" lengthAdjust="spacingAndGlyphs" stroke="#000" stroke-width="0.3">Thu</text>
<text x="810.04" y="203.20" font-size="11.8" text-anchor="middle" fill="#000" font-weight="bold" textLength="28.50" lengthAdjust="spacingAndGlyphs" stroke="#000" stroke-width="0.3">26/18</text>
<text x="810.04" y="215.30" font-size="11.0" text-anchor="middle" fill="#000" font-weight="bold" textLength="18.50" lengthAdjust="spacingAndGlyphs" stroke="#000" stroke-width="0.3">Thu</text>
<text x="857.34" y="203.20" font-size="11.8" text-anchor="middle" fill="#000" font-weight="bold" textLength="28.50" lengthAdjust="spacingAndGlyphs" stroke="#000" stroke-width="0.3">27/03</text>
<text x="857.34" y="215.30" font-size="11.0" text-anchor="middle" fill="#000" font-weight="bold" textLength="13.50" lengthAdjust="spacingAndGlyphs" stroke="#000" stroke-width="0.3">Fri</text>
<text x="904.64" y="203.20" font-size="11.8" text-anchor="middle" fill="#000" font-weight="bold" textLength="28.50" lengthAdjust="spacingAndGlyphs" stroke="#000" stroke-width="0.3">27/12</text>
<text x="904.64" y="215.30" font-size="11.0" text-anchor="middle" fill="#000" font-weight="bold" textLength="13.50" lengthAdjust="spacingAndGlyphs" stroke="#000" stroke-width="0.3">Fri</text>
<text x="951.94" y="203.20" font-size="11.8" text-anchor="middle" fill="#000" font-weight="bold" textLength="28.50" lengthAdjust="spacingAndGlyphs" stroke="#000" stroke-width="0.3">27/21</text>
<text x="951.94" y="215.30" font-size="11.0" text-anchor="middle" fill="#000" font-weight="bold" textLength="13.50" lengthAdjust="spacingAndGlyphs" stroke="#000" stroke-width="0.3">Fri</text>
<text x="999.23" y="203.20" font-size="11.8" text-anchor="middle" fill="#000" font-weight="bold" textLength="28.50" lengthAdjust="spacingAndGlyphs" stroke="#000" stroke-width="0.3">28/06</text>
<text x="999.23" y="215.30" font-size="11.0" text-anchor="middle" fill="#000" font-weight="bold" textLength="17.00" lengthAdjust="spacingAndGlyphs" stroke="#000" stroke-width="0.3">Sat</text>
<rect x="250.34" y="232.50" width="16.17" height="22.50" fill="#c7e9c0"/>
<rect x="266.11" y="232.50" width="16.17" height="22.50" fill="#a1d99b"/>
<rect x="281.88" y="232.50" width="16.17" height="22.50" fill="#74c476"/>
<rect x="297.64" y="232.50" width="16.17" height="22.50" fill="#41ab5d"/>
<rect x="313.41" y="232.50" width="16.17" height="22.50" fill="#74c476"/>
<rect x="329.17" y="232.50" width="16.17" height="22.50" fill="#41ab5d"/>
<rect x="344.94" y="232.50" width="16.17" height="22.50" fill="#74c476"/>
<rect x="360.71" y="232.50" width="31.53" height="22.50" fill="#a1d99b"/>
<rect x="408.00" y="232.50" width="47.30" height="22.50" fill="#c7e9c0"/>
<rect x="597.20" y="232.50" width="15.77" height="22.50" fill="#c7e9c0"/>
<rect x="628.73" y="232.50" width="15.77" height="22.50" fill="#c7e9c0"/>
<rect x="660.26" y="232.50" width="16.17" height="22.50" fill="#a1d99b"/>
<rect x="676.03" y="232.50" width="16.17" height="22.50" fill="#c7e9c0"/>
<rect x="691.79" y="232.50" width="16.17" height="22.50" fill="#a1d99b"/>
<rect x="707.56" y="232.50" width="47.30" height="22.50" fill="#c7e9c0"/>
<rect x="817.92" y="232.50" width="16.17" height="22.50" fill="#a1d99b"/>
<rect x="833.69" y="232.50" width="47.70" height="22.50" fill="#33a457"/>
<rect x="880.99" y="232.50" width="15.77" height="22.50" fill="#a1d99b"/>
<rect x="928.29" y="232.50" width="15.77" height="22.50" fill="#c7e9c0"/>
<rect x="833.69" y="255.00" width="15.77" height="22.00" fill="#d9308f"/>
<rect x="250.34" y="299.25" width="16.17" height="22.50" fill="#9ecae1"/>
<rect x="266.11" y="299.25" width="31.93" height="22.50" fill="#6baed6"/>
<rect x="297.64" y="299.25" width="16.17" height="22.50" fill="#4292c6"/>
<rect x="313.41" y="299.25" width="16.17" height="22.50" fill="#6baed6"/>
<rect x="329.17" y="299.25" width="16.17" height="22.50" fill="#4292c6"/>
<rect x="344.94" y="299.25" width="31.53" height="22.50" fill="#6baed6"/>
<rect x="660.26" y="299.25" width="15.77" height="22.50" fill="#6baed6"/>
<rect x="928.29" y="299.25" width="15.77" height="22.50" fill="#9ecae1"/>
<rect x="37.50" y="232.50" width="977.50" height="89.25" fill="none" stroke="#000" stroke-width="1.4"/>
<line x1="37.50" y1="255.00" x2="1015.00" y2="255.00" stroke="#000" stroke-width="1.4"/>
<line x1="37.50" y1="277.00" x2="1015.00" y2="277.00" stroke="#000" stroke-width="1.4"/>
<line x1="37.50" y1="299.25" x2="1015.00" y2="299.25" stroke="#000" stroke-width="1.4"/>
<text x="35.00" y="236.10" font-size="9.3" text-anchor="end" fill="#000" font-weight="bold" textLength="29.50" lengthAdjust="spacingAndGlyphs" stroke="#000" stroke-width="0.3">3-HOUR</text>
<text x="35.00" y="247.40" font-size="9.3" text-anchor="end" fill="#000" font-weight="bold" textLength="27.00" lengthAdjust="spacingAndGlyphs" stroke="#000" stroke-width="0.3">PRECIP</text>
<text x="35.00" y="270.00" font-size="9.3" text-anchor="end" fill="#000" font-weight="bold" textLength="32.50" lengthAdjust="spacingAndGlyphs" stroke="#000" stroke-width="0.3">FRZRAIN</text>
<text x="35.00" y="292.00" font-size="9.3" text-anchor="end" fill="#000" font-weight="bold" textLength="26.00" lengthAdjust="spacingAndGlyphs" stroke="#000" stroke-width="0.3">ICEPEL</text>
<text x="35.00" y="314.00" font-size="9.3" text-anchor="end" fill="#000" font-weight="bold" textLength="22.50" lengthAdjust="spacingAndGlyphs" stroke="#000" stroke-width="0.3">SNOW</text>
<rect x="266.11" y="328.25" width="16.17" height="32.25" fill="#c0c0c0"/>
<rect x="281.88" y="328.25" width="16.17" height="32.25" fill="#a6a6a6"/>
<rect x="297.64" y="328.25" width="16.17" height="32.25" fill="#606060"/>
<rect x="313.41" y="328.25" width="16.17" height="32.25" fill="#6cb0f8"/>
<rect x="329.17" y="328.25" width="16.17" height="32.25" fill="#3888f0"/>
<rect x="344.94" y="328.25" width="16.17" height="32.25" fill="#3080ec"/>
<rect x="360.71" y="328.25" width="299.96" height="32.25" fill="#2470e8"/>
<rect x="660.26" y="328.25" width="346.85" height="32.25" fill="#1c64d8"/>
<rect x="37.50" y="328.25" width="977.50" height="32.25" fill="none" stroke="#000" stroke-width="1.4"/>
<text x="273.99" y="349.20" font-size="11.5" text-anchor="middle" fill="#000" font-weight="bold" textLength="5.80" lengthAdjust="spacingAndGlyphs" stroke="#000" stroke-width="0.3">0</text>
<text x="289.76" y="349.20" font-size="11.5" text-anchor="middle" fill="#fff" font-weight="bold" textLength="5.80" lengthAdjust="spacingAndGlyphs" stroke="#fff" stroke-width="0.3">1</text>
<text x="305.52" y="349.20" font-size="11.5" text-anchor="middle" fill="#fff" font-weight="bold" textLength="5.80" lengthAdjust="spacingAndGlyphs" stroke="#fff" stroke-width="0.3">2</text>
<text x="321.29" y="349.20" font-size="11.5" text-anchor="middle" fill="#000" font-weight="bold" textLength="5.80" lengthAdjust="spacingAndGlyphs" stroke="#000" stroke-width="0.3">3</text>
<text x="337.06" y="349.20" font-size="11.5" text-anchor="middle" fill="#fff" font-weight="bold" textLength="5.80" lengthAdjust="spacingAndGlyphs" stroke="#fff" stroke-width="0.3">4</text>
<text x="352.82" y="349.20" font-size="11.5" text-anchor="middle" fill="#fff" font-weight="bold" textLength="5.80" lengthAdjust="spacingAndGlyphs" stroke="#fff" stroke-width="0.3">4</text>
<text x="368.59" y="349.20" font-size="11.5" text-anchor="middle" fill="#fff" font-weight="bold" textLength="5.80" lengthAdjust="spacingAndGlyphs" stroke="#fff" stroke-width="0.3">5</text>
<text x="384.35" y="349.20" font-size="11.5" text-anchor="middle" fill="#fff" font-weight="bold" textLength="5.80" lengthAdjust="spacingAndGlyphs" stroke="#fff" stroke-width="0.3">5</text>
<text x="400.12" y="349.20" font-size="11.5" text-anchor="middle" fill="#fff" font-weight="bold" textLength="5.80" lengthAdjust="spacingAndGlyphs" stroke="#fff" stroke-width="0.3">5</text>
<text x="415.89" y="349.20" font-size="11.5" text-anchor="middle" fill="#fff" font-weight="bold" textLength="5.80" lengthAdjust="spacingAndGlyphs" stroke="#fff" stroke-width="0.3">5</text>
<text x="431.65" y="349.20" font-size="11.5" text-anchor="middle" fill="#fff" font-weight="bold" textLength="5.80" lengthAdjust="spacingAndGlyphs" stroke="#fff" stroke-width="0.3">5</text>
<text x="447.42" y="349.20" font-size="11.5" text-anchor="middle" fill="#fff" font-weight="bold" textLength="5.80" lengthAdjust="spacingAndGlyphs" stroke="#fff" stroke-width="0.3">5</text>
<text x="463.19" y="349.20" font-size="11.5" text-anchor="middle" fill="#fff" font-weight="bold" textLength="5.80" lengthAdjust="spacingAndGlyphs" stroke="#fff" stroke-width="0.3">5</text>
<text x="478.95" y="349.20" font-size="11.5" text-anchor="middle" fill="#fff" font-weight="bold" textLength="5.80" lengthAdjust="spacingAndGlyphs" stroke="#fff" stroke-width="0.3">5</text>
<text x="494.72" y="349.20" font-size="11.5" text-anchor="middle" fill="#fff" font-weight="bold" textLength="5.80" lengthAdjust="spacingAndGlyphs" stroke="#fff" stroke-width="0.3">5</text>
<text x="510.48" y="349.20" font-size="11.5" text-anchor="middle" fill="#fff" font-weight="bold" textLength="5.80" lengthAdjust="spacingAndGlyphs" stroke="#fff" stroke-width="0.3">5</text>
<text x="526.25" y="349.20" font-size="11.5" text-anchor="middle" fill="#fff" font-weight="bold" textLength="5.80" lengthAdjust="spacingAndGlyphs" stroke="#fff" stroke-width="0.3">5</text>
<text x="542.02" y="349.20" font-size="11.5" text-anchor="middle" fill="#fff" font-weight="bold" textLength="5.80" lengthAdjust="spacingAndGlyphs" stroke="#fff" stroke-width="0.3">5</text>
<text x="557.78" y="349.20" font-size="11.5" text-anchor="middle" fill="#fff" font-weight="bold" textLength="5.80" lengthAdjust="spacingAndGlyphs" stroke="#fff" stroke-width="0.3">5</text>
<text x="573.55" y="349.20" font-size="11.5" text-anchor="middle" fill="#fff" font-weight="bold" textLength="5.80" lengthAdjust="spacingAndGlyphs" stroke="#fff" stroke-width="0.3">5</text>
<text x="589.31" y="349.20" font-size="11.5" text-anchor="middle" fill="#fff" font-weight="bold" textLength="5.80" lengthAdjust="spacingAndGlyphs" stroke="#fff" stroke-width="0.3">5</text>
<text x="605.08" y="349.20" font-size="11.5" text-anchor="middle" fill="#fff" font-weight="bold" textLength="5.80" lengthAdjust="spacingAndGlyphs" stroke="#fff" stroke-width="0.3">5</text>
<text x="620.85" y="349.20" font-size="11.5" text-anchor="middle" fill="#fff" font-weight="bold" textLength="5.80" lengthAdjust="spacingAndGlyphs" stroke="#fff" stroke-width="0.3">5</text>
<text x="636.61" y="349.20" font-size="11.5" text-anchor="middle" fill="#fff" font-weight="bold" textLength="5.80" lengthAdjust="spacingAndGlyphs" stroke="#fff" stroke-width="0.3">5</text>
<text x="652.38" y="349.20" font-size="11.5" text-anchor="middle" fill="#fff" font-weight="bold" textLength="5.80" lengthAdjust="spacingAndGlyphs" stroke="#fff" stroke-width="0.3">5</text>
<text x="668.15" y="349.20" font-size="11.5" text-anchor="middle" fill="#fff" font-weight="bold" textLength="5.80" lengthAdjust="spacingAndGlyphs" stroke="#fff" stroke-width="0.3">5</text>
<text x="683.91" y="349.20" font-size="11.5" text-anchor="middle" fill="#fff" font-weight="bold" textLength="5.80" lengthAdjust="spacingAndGlyphs" stroke="#fff" stroke-width="0.3">5</text>
<text x="699.68" y="349.20" font-size="11.5" text-anchor="middle" fill="#fff" font-weight="bold" textLength="5.80" lengthAdjust="spacingAndGlyphs" stroke="#fff" stroke-width="0.3">5</text>
<text x="715.44" y="349.20" font-size="11.5" text-anchor="middle" fill="#fff" font-weight="bold" textLength="5.80" lengthAdjust="spacingAndGlyphs" stroke="#fff" stroke-width="0.3">5</text>
<text x="731.21" y="349.20" font-size="11.5" text-anchor="middle" fill="#fff" font-weight="bold" textLength="5.80" lengthAdjust="spacingAndGlyphs" stroke="#fff" stroke-width="0.3">5</text>
<text x="746.98" y="349.20" font-size="11.5" text-anchor="middle" fill="#fff" font-weight="bold" textLength="5.80" lengthAdjust="spacingAndGlyphs" stroke="#fff" stroke-width="0.3">5</text>
<text x="762.74" y="349.20" font-size="11.5" text-anchor="middle" fill="#fff" font-weight="bold" textLength="5.80" lengthAdjust="spacingAndGlyphs" stroke="#fff" stroke-width="0.3">5</text>
<text x="778.51" y="349.20" font-size="11.5" text-anchor="middle" fill="#fff" font-weight="bold" textLength="5.80" lengthAdjust="spacingAndGlyphs" stroke="#fff" stroke-width="0.3">5</text>
<text x="794.27" y="349.20" font-size="11.5" text-anchor="middle" fill="#fff" font-weight="bold" textLength="5.80" lengthAdjust="spacingAndGlyphs" stroke="#fff" stroke-width="0.3">5</text>
<text x="810.04" y="349.20" font-size="11.5" text-anchor="middle" fill="#fff" font-weight="bold" textLength="5.80" lengthAdjust="spacingAndGlyphs" stroke="#fff" stroke-width="0.3">5</text>
<text x="825.81" y="349.20" font-size="11.5" text-anchor="middle" fill="#fff" font-weight="bold" textLength="5.80" lengthAdjust="spacingAndGlyphs" stroke="#fff" stroke-width="0.3">5</text>
<text x="841.57" y="349.20" font-size="11.5" text-anchor="middle" fill="#fff" font-weight="bold" textLength="5.80" lengthAdjust="spacingAndGlyphs" stroke="#fff" stroke-width="0.3">5</text>
<text x="857.34" y="349.20" font-size="11.5" text-anchor="middle" fill="#fff" font-weight="bold" textLength="5.80" lengthAdjust="spacingAndGlyphs" stroke="#fff" stroke-width="0.3">5</text>
<text x="873.10" y="349.20" font-size="11.5" text-anchor="middle" fill="#fff" font-weight="bold" textLength="5.80" lengthAdjust="spacingAndGlyphs" stroke="#fff" stroke-width="0.3">5</text>
<text x="888.87" y="349.20" font-size="11.5" text-anchor="middle" fill="#fff" font-weight="bold" textLength="5.80" lengthAdjust="spacingAndGlyphs" stroke="#fff" stroke-width="0.3">5</text>
<text x="904.64" y="349.20" font-size="11.5" text-anchor="middle" fill="#fff" font-weight="bold" textLength="5.80" lengthAdjust="spacingAndGlyphs" stroke="#fff" stroke-width="0.3">5</text>
<text x="920.40" y="349.20" font-size="11.5" text-anchor="middle" fill="#fff" font-weight="bold" textLength="5.80" lengthAdjust="spacingAndGlyphs" stroke="#fff" stroke-width="0.3">5</text>
<text x="936.17" y="349.20" font-size="11.5" text-anchor="middle" fill="#fff" font-weight="bold" textLength="5.80" lengthAdjust="spacingAndGlyphs" stroke="#fff" stroke-width="0.3">5</text>
<text x="951.94" y="349.20" font-size="11.5" text-anchor="middle" fill="#fff" font-weight="bold" textLength="5.80" lengthAdjust="spacingAndGlyphs" stroke="#fff" stroke-width="0.3">5</text>
<text x="967.70" y="349.20" font-size="11.5" text-anchor="middle" fill="#fff" font-weight="bold" textLength="5.80" lengthAdjust="spacingAndGlyphs" stroke="#fff" stroke-width="0.3">5</text>
<text x="983.47" y="349.20" font-size="11.5" text-anchor="middle" fill="#fff" font-weight="bold" textLength="5.80" lengthAdjust="spacingAndGlyphs" stroke="#fff" stroke-width="0.3">5</text>
<text x="999.23" y="349.20" font-size="11.5" text-anchor="middle" fill="#fff" font-weight="bold" textLength="5.80" lengthAdjust="spacingAndGlyphs" stroke="#fff" stroke-width="0.3">5</text>
<line x1="53.27" y1="357.60" x2="53.27" y2="365.60" stroke="#000" stroke-width="1.4"/>
<line x1="100.56" y1="357.60" x2="100.56" y2="365.60" stroke="#000" stroke-width="1.4"/>
<line x1="147.86" y1="357.60" x2="147.86" y2="365.60" stroke="#000" stroke-width="1.4"/>
<line x1="195.16" y1="357.60" x2="195.16" y2="365.60" stroke="#000" stroke-width="1.4"/>
<line x1="242.46" y1="357.60" x2="242.46" y2="365.60" stroke="#000" stroke-width="1.4"/>
<line x1="289.76" y1="357.60" x2="289.76" y2="365.60" stroke="#000" stroke-width="1.4"/>
<line x1="337.06" y1="357.60" x2="337.06" y2="365.60" stroke="#000" stroke-width="1.4"/>
<line x1="384.35" y1="357.60" x2="384.35" y2="365.60" stroke="#000" stroke-width="1.4"/>
<line x1="431.65" y1="357.60" x2="431.65" y2="365.60" stroke="#000" stroke-width="1.4"/>
<line x1="478.95" y1="357.60" x2="478.95" y2="365.60" stroke="#000" stroke-width="1.4"/>
<line x1="526.25" y1="357.60" x2="526.25" y2="365.60" stroke="#000" stroke-width="1.4"/>
<line x1="573.55" y1="357.60" x2="573.55" y2="365.60" stroke="#000" stroke-width="1.4"/>
<line x1="620.85" y1="357.60" x2="620.85" y2="365.60" stroke="#000" stroke-width="1.4"/>
<line x1="668.15" y1="357.60" x2="668.15" y2="365.60" stroke="#000" stroke-width="1.4"/>
<line x1="715.44" y1="357.60" x2="715.44" y2="365.60" stroke="#000" stroke-width="1.4"/>
<line x1="762.74" y1="357.60" x2="762.74" y2="365.60" stroke="#000" stroke-width="1.4"/>
<line x1="810.04" y1="357.60" x2="810.04" y2="365.60" stroke="#000" stroke-width="1.4"/>
<line x1="857.34" y1="357.60" x2="857.34" y2="365.60" stroke="#000" stroke-width="1.4"/>
<line x1="904.64" y1="357.60" x2="904.64" y2="365.60" stroke="#000" stroke-width="1.4"/>
<line x1="951.94" y1="357.60" x2="951.94" y2="365.60" stroke="#000" stroke-width="1.4"/>
<line x1="999.23" y1="357.60" x2="999.23" y2="365.60" stroke="#000" stroke-width="1.4"/>
<text x="33.80" y="342.30" font-size="9.3" text-anchor="end" fill="#000" font-weight="bold" textLength="29.40" lengthAdjust="spacingAndGlyphs" stroke="#000" stroke-width="0.3">ACCUM</text>
<text x="33.80" y="355.80" font-size="9.3" text-anchor="end" fill="#000" font-weight="bold" textLength="24.60" lengthAdjust="spacingAndGlyphs" stroke="#000" stroke-width="0.3">SNOW</text>
<text x="53.27" y="378.20" font-size="11.8" text-anchor="middle" fill="#000" font-weight="bold" textLength="28.50" lengthAdjust="spacingAndGlyphs" stroke="#000" stroke-width="0.3">20/18</text>
<text x="53.27" y="391.30" font-size="11.0" text-anchor="middle" fill="#000" font-weight="bold" textLength="13.50" lengthAdjust="spacingAndGlyphs" stroke="#000" stroke-width="0.3">Fri</text>
<text x="100.56" y="378.20" font-size="11.8" text-anchor="middle" fill="#000" font-weight="bold" textLength="28.50" lengthAdjust="spacingAndGlyphs" stroke="#000" stroke-width="0.3">21/03</text>
<text x="100.56" y="391.30" font-size="11.0" text-anchor="middle" fill="#000" font-weight="bold" textLength="17.00" lengthAdjust="spacingAndGlyphs" stroke="#000" stroke-width="0.3">Sat</text>
<text x="147.86" y="378.20" font-size="11.8" text-anchor="middle" fill="#000" font-weight="bold" textLength="28.50" lengthAdjust="spacingAndGlyphs" stroke="#000" stroke-width="0.3">21/12</text>
<text x="147.86" y="391.30" font-size="11.0" text-anchor="middle" fill="#000" font-weight="bold" textLength="17.00" lengthAdjust="spacingAndGlyphs" stroke="#000" stroke-width="0.3">Sat</text>
<text x="195.16" y="378.20" font-size="11.8" text-anchor="middle" fill="#000" font-weight="bold" textLength="28.50" lengthAdjust="spacingAndGlyphs" stroke="#000" stroke-width="0.3">21/21</text>
<text x="195.16" y="391.30" font-size="11.0" text-anchor="middle" fill="#000" font-weight="bold" textLength="17.00" lengthAdjust="spacingAndGlyphs" stroke="#000" stroke-width="0.3">Sat</text>
<text x="242.46" y="378.20" font-size="11.8" text-anchor="middle" fill="#000" font-weight="bold" textLength="28.50" lengthAdjust="spacingAndGlyphs" stroke="#000" stroke-width="0.3">22/06</text>
<text x="242.46" y="391.30" font-size="11.0" text-anchor="middle" fill="#000" font-weight="bold" textLength="19.50" lengthAdjust="spacingAndGlyphs" stroke="#000" stroke-width="0.3">Sun</text>
<text x="289.76" y="378.20" font-size="11.8" text-anchor="middle" fill="#000" font-weight="bold" textLength="28.50" lengthAdjust="spacingAndGlyphs" stroke="#000" stroke-width="0.3">22/15</text>
<text x="289.76" y="391.30" font-size="11.0" text-anchor="middle" fill="#000" font-weight="bold" textLength="19.50" lengthAdjust="spacingAndGlyphs" stroke="#000" stroke-width="0.3">Sun</text>
<text x="337.06" y="378.20" font-size="11.8" text-anchor="middle" fill="#000" font-weight="bold" textLength="28.50" lengthAdjust="spacingAndGlyphs" stroke="#000" stroke-width="0.3">23/00</text>
<text x="337.06" y="391.30" font-size="11.0" text-anchor="middle" fill="#000" font-weight="bold" textLength="21.00" lengthAdjust="spacingAndGlyphs" stroke="#000" stroke-width="0.3">Mon</text>
<text x="384.35" y="378.20" font-size="11.8" text-anchor="middle" fill="#000" font-weight="bold" textLength="28.50" lengthAdjust="spacingAndGlyphs" stroke="#000" stroke-width="0.3">23/09</text>
<text x="384.35" y="391.30" font-size="11.0" text-anchor="middle" fill="#000" font-weight="bold" textLength="21.00" lengthAdjust="spacingAndGlyphs" stroke="#000" stroke-width="0.3">Mon</text>
<text x="431.65" y="378.20" font-size="11.8" text-anchor="middle" fill="#000" font-weight="bold" textLength="28.50" lengthAdjust="spacingAndGlyphs" stroke="#000" stroke-width="0.3">23/18</text>
<text x="431.65" y="391.30" font-size="11.0" text-anchor="middle" fill="#000" font-weight="bold" textLength="21.00" lengthAdjust="spacingAndGlyphs" stroke="#000" stroke-width="0.3">Mon</text>
<text x="478.95" y="378.20" font-size="11.8" text-anchor="middle" fill="#000" font-weight="bold" textLength="28.50" lengthAdjust="spacingAndGlyphs" stroke="#000" stroke-width="0.3">24/03</text>
<text x="478.95" y="391.30" font-size="11.0" text-anchor="middle" fill="#000" font-weight="bold" textLength="17.50" lengthAdjust="spacingAndGlyphs" stroke="#000" stroke-width="0.3">Tue</text>
<text x="526.25" y="378.20" font-size="11.8" text-anchor="middle" fill="#000" font-weight="bold" textLength="28.50" lengthAdjust="spacingAndGlyphs" stroke="#000" stroke-width="0.3">24/12</text>
<text x="526.25" y="391.30" font-size="11.0" text-anchor="middle" fill="#000" font-weight="bold" textLength="17.50" lengthAdjust="spacingAndGlyphs" stroke="#000" stroke-width="0.3">Tue</text>
<text x="573.55" y="378.20" font-size="11.8" text-anchor="middle" fill="#000" font-weight="bold" textLength="28.50" lengthAdjust="spacingAndGlyphs" stroke="#000" stroke-width="0.3">24/21</text>
<text x="573.55" y="391.30" font-size="11.0" text-anchor="middle" fill="#000" font-weight="bold" textLength="17.50" lengthAdjust="spacingAndGlyphs" stroke="#000" stroke-width="0.3">Tue</text>
<text x="620.85" y="378.20" font-size="11.8" text-anchor="middle" fill="#000" font-weight="bold" textLength="28.50" lengthAdjust="spacingAndGlyphs" stroke="#000" stroke-width="0.3">25/06</text>
<text x="620.85" y="391.30" font-size="11.0" text-anchor="middle" fill="#000" font-weight="bold" textLength="21.00" lengthAdjust="spacingAndGlyphs" stroke="#000" stroke-width="0.3">Wed</text>
<text x="668.15" y="378.20" font-size="11.8" text-anchor="middle" fill="#000" font-weight="bold" textLength="28.50" lengthAdjust="spacingAndGlyphs" stroke="#000" stroke-width="0.3">25/15</text>
<text x="668.15" y="391.30" font-size="11.0" text-anchor="middle" fill="#000" font-weight="bold" textLength="21.00" lengthAdjust="spacingAndGlyphs" stroke="#000" stroke-width="0.3">Wed</text>
<text x="715.44" y="378.20" font-size="11.8" text-anchor="middle" fill="#000" font-weight="bold" textLength="28.50" lengthAdjust="spacingAndGlyphs" stroke="#000" stroke-width="0.3">26/00</text>
<text x="715.44" y="391.30" font-size="11.0" text-anchor="middle" fill="#000" font-weight="bold" textLength="18.50" lengthAdjust="spacingAndGlyphs" stroke="#000" stroke-width="0.3">Thu</text>
<text x="762.74" y="378.20" font-size="11.8" text-anchor="middle" fill="#000" font-weight="bold" textLength="28.50" lengthAdjust="spacingAndGlyphs" stroke="#000" stroke-width="0.3">26/09</text>
<text x="762.74" y="391.30" font-size="11.0" text-anchor="middle" fill="#000" font-weight="bold" textLength="18.50" lengthAdjust="spacingAndGlyphs" stroke="#000" stroke-width="0.3">Thu</text>
<text x="810.04" y="378.20" font-size="11.8" text-anchor="middle" fill="#000" font-weight="bold" textLength="28.50" lengthAdjust="spacingAndGlyphs" stroke="#000" stroke-width="0.3">26/18</text>
<text x="810.04" y="391.30" font-size="11.0" text-anchor="middle" fill="#000" font-weight="bold" textLength="18.50" lengthAdjust="spacingAndGlyphs" stroke="#000" stroke-width="0.3">Thu</text>
<text x="857.34" y="378.20" font-size="11.8" text-anchor="middle" fill="#000" font-weight="bold" textLength="28.50" lengthAdjust="spacingAndGlyphs" stroke="#000" stroke-width="0.3">27/03</text>
<text x="857.34" y="391.30" font-size="11.0" text-anchor="middle" fill="#000" font-weight="bold" textLength="13.50" lengthAdjust="spacingAndGlyphs" stroke="#000" stroke-width="0.3">Fri</text>
<text x="904.64" y="378.20" font-size="11.8" text-anchor="middle" fill="#000" font-weight="bold" textLength="28.50" lengthAdjust="spacingAndGlyphs" stroke="#000" stroke-width="0.3">27/12</text>
<text x="904.64" y="391.30" font-size="11.0" text-anchor="middle" fill="#000" font-weight="bold" textLength="13.50" lengthAdjust="spacingAndGlyphs" stroke="#000" stroke-width="0.3">Fri</text>
<text x="951.94" y="378.20" font-size="11.8" text-anchor="middle" fill="#000" font-weight="bold" textLength="28.50" lengthAdjust="spacingAndGlyphs" stroke="#000" stroke-width="0.3">27/21</text>
<text x="951.94" y="391.30" font-size="11.0" text-anchor="middle" fill="#000" font-weight="bold" textLength="13.50" lengthAdjust="spacingAndGlyphs" stroke="#000" stroke-width="0.3">Fri</text>
<text x="999.23" y="378.20" font-size="11.8" text-anchor="middle" fill="#000" font-weight="bold" textLength="28.50" lengthAdjust="spacingAndGlyphs" stroke="#000" stroke-width="0.3">28/06</text>
<text x="999.23" y="391.30" font-size="11.0" text-anchor="middle" fill="#000" font-weight="bold" textLength="17.00" lengthAdjust="spacingAndGlyphs" stroke="#000" stroke-width="0.3">Sat</text>
<line x1="33.6" y1="562.00" x2="37.50" y2="562.00" stroke="#000" stroke-width="1.2"/>
<text x="31.60" y="566.20" font-size="11.6" text-anchor="end" fill="#000" font-weight="bold" textLength="5.60" lengthAdjust="spacingAndGlyphs" stroke="#000" stroke-width="0.3">0</text>
<line x1="43.50" y1="528.50" x2="1009.00" y2="528.50" stroke="#d4d4d4" stroke-width="0.8" stroke-dasharray="1.2 7.2"/>
<line x1="33.6" y1="528.50" x2="37.50" y2="528.50" stroke="#000" stroke-width="1.2"/>
<text x="31.60" y="532.70" font-size="11.6" text-anchor="end" fill="#000" font-weight="bold" textLength="19.00" lengthAdjust="spacingAndGlyphs" stroke="#000" stroke-width="0.3">0.04</text>
<line x1="43.50" y1="495.00" x2="1009.00" y2="495.00" stroke="#d4d4d4" stroke-width="0.8" stroke-dasharray="1.2 7.2"/>
<line x1="33.6" y1="495.00" x2="37.50" y2="495.00" stroke="#000" stroke-width="1.2"/>
<text x="31.60" y="499.20" font-size="11.6" text-anchor="end" fill="#000" font-weight="bold" textLength="19.00" lengthAdjust="spacingAndGlyphs" stroke="#000" stroke-width="0.3">0.08</text>
<line x1="43.50" y1="461.50" x2="1009.00" y2="461.50" stroke="#d4d4d4" stroke-width="0.8" stroke-dasharray="1.2 7.2"/>
<line x1="33.6" y1="461.50" x2="37.50" y2="461.50" stroke="#000" stroke-width="1.2"/>
<text x="31.60" y="465.70" font-size="11.6" text-anchor="end" fill="#000" font-weight="bold" textLength="19.00" lengthAdjust="spacingAndGlyphs" stroke="#000" stroke-width="0.3">0.12</text>
<line x1="43.50" y1="428.00" x2="1009.00" y2="428.00" stroke="#d4d4d4" stroke-width="0.8" stroke-dasharray="1.2 7.2"/>
<line x1="33.6" y1="428.00" x2="37.50" y2="428.00" stroke="#000" stroke-width="1.2"/>
<text x="31.60" y="432.20" font-size="11.6" text-anchor="end" fill="#000" font-weight="bold" textLength="19.00" lengthAdjust="spacingAndGlyphs" stroke="#000" stroke-width="0.3">0.16</text>
<line x1="33.6" y1="394.50" x2="37.50" y2="394.50" stroke="#000" stroke-width="1.2"/>
<text x="31.60" y="398.70" font-size="11.6" text-anchor="end" fill="#000" font-weight="bold" textLength="13.40" lengthAdjust="spacingAndGlyphs" stroke="#000" stroke-width="0.3">0.2</text>
<text x="55.50" y="420.80" font-size="10.8" text-anchor="start" fill="#000" font-weight="bold" textLength="61.50" lengthAdjust="spacingAndGlyphs" stroke="#000" stroke-width="0.3">3-HR PRECIP</text>
<rect x="37.50" y="394.50" width="977.50" height="167.50" fill="none" stroke="#000" stroke-width="1.4"/>
<line x1="48.72" y1="562.00" x2="57.82" y2="562.00" stroke="#3c46b4" stroke-width="1.3"/>
<line x1="64.48" y1="562.00" x2="73.58" y2="562.00" stroke="#3c46b4" stroke-width="1.3"/>
<line x1="80.25" y1="562.00" x2="89.35" y2="562.00" stroke="#3c46b4" stroke-width="1.3"/>
<line x1="96.01" y1="562.00" x2="105.11" y2="562.00" stroke="#3c46b4" stroke-width="1.3"/>
<line x1="111.78" y1="562.00" x2="120.88" y2="562.00" stroke="#3c46b4" stroke-width="1.3"/>
<line x1="127.55" y1="562.00" x2="136.65" y2="562.00" stroke="#3c46b4" stroke-width="1.3"/>
<line x1="143.31" y1="562.00" x2="152.41" y2="562.00" stroke="#3c46b4" stroke-width="1.3"/>
<line x1="159.08" y1="562.00" x2="168.18" y2="562.00" stroke="#3c46b4" stroke-width="1.3"/>
<line x1="174.85" y1="562.00" x2="183.95" y2="562.00" stroke="#3c46b4" stroke-width="1.3"/>
<line x1="190.61" y1="562.00" x2="199.71" y2="562.00" stroke="#3c46b4" stroke-width="1.3"/>
<line x1="206.38" y1="562.00" x2="215.48" y2="562.00" stroke="#3c46b4" stroke-width="1.3"/>
<line x1="222.14" y1="562.00" x2="231.24" y2="562.00" stroke="#3c46b4" stroke-width="1.3"/>
<line x1="237.91" y1="562.00" x2="247.01" y2="562.00" stroke="#3c46b4" stroke-width="1.3"/>
<rect x="253.68" y="557.81" width="9.10" height="4.19" fill="#b3b3b3" stroke="#504bd0" stroke-width="1.3"/>
<rect x="269.44" y="535.20" width="9.10" height="26.80" fill="#b3b3b3" stroke="#504bd0" stroke-width="1.3"/>
<rect x="285.21" y="487.46" width="9.10" height="74.54" fill="#b3b3b3" stroke="#504bd0" stroke-width="1.3"/>
<rect x="300.97" y="458.99" width="9.10" height="103.01" fill="#b3b3b3" stroke="#504bd0" stroke-width="1.3"/>
<rect x="316.74" y="491.65" width="9.10" height="70.35" fill="#b3b3b3" stroke="#504bd0" stroke-width="1.3"/>
<rect x="332.51" y="458.99" width="9.10" height="103.01" fill="#b3b3b3" stroke="#504bd0" stroke-width="1.3"/>
<rect x="348.27" y="496.68" width="9.10" height="65.33" fill="#b3b3b3" stroke="#504bd0" stroke-width="1.3"/>
<rect x="364.04" y="535.20" width="9.10" height="26.80" fill="#b3b3b3" stroke="#504bd0" stroke-width="1.3"/>
<rect x="379.80" y="547.76" width="9.10" height="14.24" fill="#b3b3b3" stroke="#504bd0" stroke-width="1.3"/>
<line x1="395.57" y1="562.00" x2="404.67" y2="562.00" stroke="#3c46b4" stroke-width="1.3"/>
<rect x="411.34" y="557.81" width="9.10" height="4.19" fill="#b3b3b3" stroke="#504bd0" stroke-width="1.3"/>
<rect x="427.10" y="559.49" width="9.10" height="2.51" fill="#b3b3b3" stroke="#504bd0" stroke-width="1.3"/>
<rect x="442.87" y="560.33" width="9.10" height="1.68" fill="#b3b3b3" stroke="#504bd0" stroke-width="1.3"/>
<line x1="458.64" y1="562.00" x2="467.74" y2="562.00" stroke="#3c46b4" stroke-width="1.3"/>
<line x1="474.40" y1="562.00" x2="483.50" y2="562.00" stroke="#3c46b4" stroke-width="1.3"/>
<line x1="490.17" y1="562.00" x2="499.27" y2="562.00" stroke="#3c46b4" stroke-width="1.3"/>
<line x1="505.93" y1="562.00" x2="515.03" y2="562.00" stroke="#3c46b4" stroke-width="1.3"/>
<line x1="521.70" y1="562.00" x2="530.80" y2="562.00" stroke="#3c46b4" stroke-width="1.3"/>
<line x1="537.47" y1="562.00" x2="546.57" y2="562.00" stroke="#3c46b4" stroke-width="1.3"/>
<line x1="553.23" y1="562.00" x2="562.33" y2="562.00" stroke="#3c46b4" stroke-width="1.3"/>
<line x1="569.00" y1="562.00" x2="578.10" y2="562.00" stroke="#3c46b4" stroke-width="1.3"/>
<line x1="584.76" y1="562.00" x2="593.86" y2="562.00" stroke="#3c46b4" stroke-width="1.3"/>
<rect x="600.53" y="560.33" width="9.10" height="1.68" fill="#b3b3b3" stroke="#504bd0" stroke-width="1.3"/>
<line x1="616.30" y1="562.00" x2="625.40" y2="562.00" stroke="#3c46b4" stroke-width="1.3"/>
<rect x="632.06" y="560.33" width="9.10" height="1.68" fill="#b3b3b3" stroke="#504bd0" stroke-width="1.3"/>
<line x1="647.83" y1="562.00" x2="656.93" y2="562.00" stroke="#3c46b4" stroke-width="1.3"/>
<rect x="663.60" y="531.01" width="9.10" height="30.99" fill="#b3b3b3" stroke="#504bd0" stroke-width="1.3"/>
<rect x="679.36" y="556.14" width="9.10" height="5.86" fill="#b3b3b3" stroke="#504bd0" stroke-width="1.3"/>
<rect x="695.13" y="545.25" width="9.10" height="16.75" fill="#b3b3b3" stroke="#504bd0" stroke-width="1.3"/>
<rect x="710.89" y="557.81" width="9.10" height="4.19" fill="#b3b3b3" stroke="#504bd0" stroke-width="1.3"/>
<rect x="726.66" y="557.81" width="9.10" height="4.19" fill="#b3b3b3" stroke="#504bd0" stroke-width="1.3"/>
<rect x="742.43" y="560.33" width="9.10" height="1.68" fill="#b3b3b3" stroke="#504bd0" stroke-width="1.3"/>
<line x1="758.19" y1="562.00" x2="767.29" y2="562.00" stroke="#3c46b4" stroke-width="1.3"/>
<line x1="773.96" y1="562.00" x2="783.06" y2="562.00" stroke="#3c46b4" stroke-width="1.3"/>
<line x1="789.72" y1="562.00" x2="798.82" y2="562.00" stroke="#3c46b4" stroke-width="1.3"/>
<line x1="805.49" y1="562.00" x2="814.59" y2="562.00" stroke="#3c46b4" stroke-width="1.3"/>
<rect x="821.26" y="551.53" width="9.10" height="10.47" fill="#b3b3b3" stroke="#504bd0" stroke-width="1.3"/>
<rect x="837.02" y="421.55" width="9.10" height="140.45" fill="#b3b3b3" stroke="#504bd0" stroke-width="1.3"/>
<rect x="852.79" y="452.71" width="9.10" height="109.29" fill="#b3b3b3" stroke="#504bd0" stroke-width="1.3"/>
<rect x="868.55" y="460.66" width="9.10" height="101.34" fill="#b3b3b3" stroke="#504bd0" stroke-width="1.3"/>
<rect x="884.32" y="532.69" width="9.10" height="29.31" fill="#b3b3b3" stroke="#504bd0" stroke-width="1.3"/>
<line x1="900.09" y1="562.00" x2="909.19" y2="562.00" stroke="#3c46b4" stroke-width="1.3"/>
<line x1="915.85" y1="562.00" x2="924.95" y2="562.00" stroke="#3c46b4" stroke-width="1.3"/>
<rect x="931.62" y="557.81" width="9.10" height="4.19" fill="#b3b3b3" stroke="#504bd0" stroke-width="1.3"/>
<line x1="947.39" y1="562.00" x2="956.49" y2="562.00" stroke="#3c46b4" stroke-width="1.3"/>
<line x1="963.15" y1="562.00" x2="972.25" y2="562.00" stroke="#3c46b4" stroke-width="1.3"/>
<line x1="978.92" y1="562.00" x2="988.02" y2="562.00" stroke="#3c46b4" stroke-width="1.3"/>
<line x1="994.68" y1="562.00" x2="1003.78" y2="562.00" stroke="#3c46b4" stroke-width="1.3"/>
<line x1="53.27" y1="558.40" x2="53.27" y2="566.00" stroke="#000" stroke-width="1.4"/>
<line x1="100.56" y1="558.40" x2="100.56" y2="566.00" stroke="#000" stroke-width="1.4"/>
<line x1="147.86" y1="558.40" x2="147.86" y2="566.00" stroke="#000" stroke-width="1.4"/>
<line x1="195.16" y1="558.40" x2="195.16" y2="566.00" stroke="#000" stroke-width="1.4"/>
<line x1="242.46" y1="558.40" x2="242.46" y2="566.00" stroke="#000" stroke-width="1.4"/>
<line x1="289.76" y1="558.40" x2="289.76" y2="566.00" stroke="#000" stroke-width="1.4"/>
<line x1="337.06" y1="558.40" x2="337.06" y2="566.00" stroke="#000" stroke-width="1.4"/>
<line x1="384.35" y1="558.40" x2="384.35" y2="566.00" stroke="#000" stroke-width="1.4"/>
<line x1="431.65" y1="558.40" x2="431.65" y2="566.00" stroke="#000" stroke-width="1.4"/>
<line x1="478.95" y1="558.40" x2="478.95" y2="566.00" stroke="#000" stroke-width="1.4"/>
<line x1="526.25" y1="558.40" x2="526.25" y2="566.00" stroke="#000" stroke-width="1.4"/>
<line x1="573.55" y1="558.40" x2="573.55" y2="566.00" stroke="#000" stroke-width="1.4"/>
<line x1="620.85" y1="558.40" x2="620.85" y2="566.00" stroke="#000" stroke-width="1.4"/>
<line x1="668.15" y1="558.40" x2="668.15" y2="566.00" stroke="#000" stroke-width="1.4"/>
<line x1="715.44" y1="558.40" x2="715.44" y2="566.00" stroke="#000" stroke-width="1.4"/>
<line x1="762.74" y1="558.40" x2="762.74" y2="566.00" stroke="#000" stroke-width="1.4"/>
<line x1="810.04" y1="558.40" x2="810.04" y2="566.00" stroke="#000" stroke-width="1.4"/>
<line x1="857.34" y1="558.40" x2="857.34" y2="566.00" stroke="#000" stroke-width="1.4"/>
<line x1="904.64" y1="558.40" x2="904.64" y2="566.00" stroke="#000" stroke-width="1.4"/>
<line x1="951.94" y1="558.40" x2="951.94" y2="566.00" stroke="#000" stroke-width="1.4"/>
<line x1="999.23" y1="558.40" x2="999.23" y2="566.00" stroke="#000" stroke-width="1.4"/>
<rect x="266.11" y="585.00" width="16.17" height="32.70" fill="#c4c4c4"/>
<rect x="281.88" y="585.00" width="16.17" height="32.70" fill="#ccf8c0"/>
<rect x="297.64" y="585.00" width="16.17" height="32.70" fill="#70e468"/>
<rect x="313.41" y="585.00" width="16.17" height="32.70" fill="#28b428"/>
<rect x="329.17" y="585.00" width="16.17" height="32.70" fill="#18a818"/>
<rect x="344.94" y="585.00" width="315.72" height="32.70" fill="#1c64d4"/>
<rect x="660.26" y="585.00" width="173.83" height="32.70" fill="#2878e4"/>
<rect x="833.69" y="585.00" width="16.17" height="32.70" fill="#98ccf8"/>
<rect x="849.46" y="585.00" width="16.17" height="32.70" fill="#b0e8fc"/>
<rect x="865.22" y="585.00" width="141.90" height="32.70" fill="#fffad0"/>
<rect x="37.50" y="585.00" width="977.50" height="32.70" fill="none" stroke="#000" stroke-width="1.4"/>
<text x="273.99" y="605.60" font-size="11.6" text-anchor="middle" fill="#000" font-weight="bold" textLength="15.20" lengthAdjust="spacingAndGlyphs" stroke="#000" stroke-width="0.3">0.0</text>
<text x="305.52" y="605.60" font-size="11.6" text-anchor="middle" fill="#000" font-weight="bold" textLength="15.20" lengthAdjust="spacingAndGlyphs" stroke="#000" stroke-width="0.3">0.2</text>
<text x="337.06" y="605.60" font-size="11.6" text-anchor="middle" fill="#fff" font-weight="bold" textLength="15.20" lengthAdjust="spacingAndGlyphs" stroke="#fff" stroke-width="0.3">0.5</text>
<text x="368.59" y="605.60" font-size="11.6" text-anchor="middle" fill="#fff" font-weight="bold" textLength="15.20" lengthAdjust="spacingAndGlyphs" stroke="#fff" stroke-width="0.3">0.6</text>
<text x="400.12" y="605.60" font-size="11.6" text-anchor="middle" fill="#fff" font-weight="bold" textLength="15.20" lengthAdjust="spacingAndGlyphs" stroke="#fff" stroke-width="0.3">0.6</text>
<text x="431.65" y="605.60" font-size="11.6" text-anchor="middle" fill="#fff" font-weight="bold" textLength="15.20" lengthAdjust="spacingAndGlyphs" stroke="#fff" stroke-width="0.3">0.6</text>
<text x="463.19" y="605.60" font-size="11.6" text-anchor="middle" fill="#fff" font-weight="bold" textLength="15.20" lengthAdjust="spacingAndGlyphs" stroke="#fff" stroke-width="0.3">0.6</text>
<text x="494.72" y="605.60" font-size="11.6" text-anchor="middle" fill="#fff" font-weight="bold" textLength="15.20" lengthAdjust="spacingAndGlyphs" stroke="#fff" stroke-width="0.3">0.6</text>
<text x="526.25" y="605.60" font-size="11.6" text-anchor="middle" fill="#fff" font-weight="bold" textLength="15.20" lengthAdjust="spacingAndGlyphs" stroke="#fff" stroke-width="0.3">0.6</text>
<text x="557.78" y="605.60" font-size="11.6" text-anchor="middle" fill="#fff" font-weight="bold" textLength="15.20" lengthAdjust="spacingAndGlyphs" stroke="#fff" stroke-width="0.3">0.6</text>
<text x="589.31" y="605.60" font-size="11.6" text-anchor="middle" fill="#fff" font-weight="bold" textLength="15.20" lengthAdjust="spacingAndGlyphs" stroke="#fff" stroke-width="0.3">0.6</text>
<text x="620.85" y="605.60" font-size="11.6" text-anchor="middle" fill="#fff" font-weight="bold" textLength="15.20" lengthAdjust="spacingAndGlyphs" stroke="#fff" stroke-width="0.3">0.6</text>
<text x="652.38" y="605.60" font-size="11.6" text-anchor="middle" fill="#fff" font-weight="bold" textLength="15.20" lengthAdjust="spacingAndGlyphs" stroke="#fff" stroke-width="0.3">0.6</text>
<text x="683.91" y="605.60" font-size="11.6" text-anchor="middle" fill="#fff" font-weight="bold" textLength="15.20" lengthAdjust="spacingAndGlyphs" stroke="#fff" stroke-width="0.3">0.6</text>
<text x="715.44" y="605.60" font-size="11.6" text-anchor="middle" fill="#fff" font-weight="bold" textLength="15.20" lengthAdjust="spacingAndGlyphs" stroke="#fff" stroke-width="0.3">0.7</text>
<text x="746.98" y="605.60" font-size="11.6" text-anchor="middle" fill="#fff" font-weight="bold" textLength="15.20" lengthAdjust="spacingAndGlyphs" stroke="#fff" stroke-width="0.3">0.7</text>
<text x="778.51" y="605.60" font-size="11.6" text-anchor="middle" fill="#fff" font-weight="bold" textLength="15.20" lengthAdjust="spacingAndGlyphs" stroke="#fff" stroke-width="0.3">0.7</text>
<text x="810.04" y="605.60" font-size="11.6" text-anchor="middle" fill="#fff" font-weight="bold" textLength="15.20" lengthAdjust="spacingAndGlyphs" stroke="#fff" stroke-width="0.3">0.7</text>
<text x="841.57" y="605.60" font-size="11.6" text-anchor="middle" fill="#000" font-weight="bold" textLength="15.20" lengthAdjust="spacingAndGlyphs" stroke="#000" stroke-width="0.3">0.9</text>
<text x="873.10" y="605.60" font-size="11.6" text-anchor="middle" fill="#000" font-weight="bold" textLength="15.20" lengthAdjust="spacingAndGlyphs" stroke="#000" stroke-width="0.3">1.1</text>
<text x="904.64" y="605.60" font-size="11.6" text-anchor="middle" fill="#000" font-weight="bold" textLength="15.20" lengthAdjust="spacingAndGlyphs" stroke="#000" stroke-width="0.3">1.1</text>
<text x="936.17" y="605.60" font-size="11.6" text-anchor="middle" fill="#000" font-weight="bold" textLength="15.20" lengthAdjust="spacingAndGlyphs" stroke="#000" stroke-width="0.3">1.1</text>
<text x="967.70" y="605.60" font-size="11.6" text-anchor="middle" fill="#000" font-weight="bold" textLength="15.20" lengthAdjust="spacingAndGlyphs" stroke="#000" stroke-width="0.3">1.1</text>
<text x="999.23" y="605.60" font-size="11.6" text-anchor="middle" fill="#000" font-weight="bold" textLength="15.20" lengthAdjust="spacingAndGlyphs" stroke="#000" stroke-width="0.3">1.1</text>
<line x1="53.27" y1="614.00" x2="53.27" y2="622.60" stroke="#000" stroke-width="1.4"/>
<line x1="100.56" y1="614.00" x2="100.56" y2="622.60" stroke="#000" stroke-width="1.4"/>
<line x1="147.86" y1="614.00" x2="147.86" y2="622.60" stroke="#000" stroke-width="1.4"/>
<line x1="195.16" y1="614.00" x2="195.16" y2="622.60" stroke="#000" stroke-width="1.4"/>
<line x1="242.46" y1="614.00" x2="242.46" y2="622.60" stroke="#000" stroke-width="1.4"/>
<line x1="289.76" y1="614.00" x2="289.76" y2="622.60" stroke="#000" stroke-width="1.4"/>
<line x1="337.06" y1="614.00" x2="337.06" y2="622.60" stroke="#000" stroke-width="1.4"/>
<line x1="384.35" y1="614.00" x2="384.35" y2="622.60" stroke="#000" stroke-width="1.4"/>
<line x1="431.65" y1="614.00" x2="431.65" y2="622.60" stroke="#000" stroke-width="1.4"/>
<line x1="478.95" y1="614.00" x2="478.95" y2="622.60" stroke="#000" stroke-width="1.4"/>
<line x1="526.25" y1="614.00" x2="526.25" y2="622.60" stroke="#000" stroke-width="1.4"/>
<line x1="573.55" y1="614.00" x2="573.55" y2="622.60" stroke="#000" stroke-width="1.4"/>
<line x1="620.85" y1="614.00" x2="620.85" y2="622.60" stroke="#000" stroke-width="1.4"/>
<line x1="668.15" y1="614.00" x2="668.15" y2="622.60" stroke="#000" stroke-width="1.4"/>
<line x1="715.44" y1="614.00" x2="715.44" y2="622.60" stroke="#000" stroke-width="1.4"/>
<line x1="762.74" y1="614.00" x2="762.74" y2="622.60" stroke="#000" stroke-width="1.4"/>
<line x1="810.04" y1="614.00" x2="810.04" y2="622.60" stroke="#000" stroke-width="1.4"/>
<line x1="857.34" y1="614.00" x2="857.34" y2="622.60" stroke="#000" stroke-width="1.4"/>
<line x1="904.64" y1="614.00" x2="904.64" y2="622.60" stroke="#000" stroke-width="1.4"/>
<line x1="951.94" y1="614.00" x2="951.94" y2="622.60" stroke="#000" stroke-width="1.4"/>
<line x1="999.23" y1="614.00" x2="999.23" y2="622.60" stroke="#000" stroke-width="1.4"/>
<text x="34.50" y="592.70" font-size="9.3" text-anchor="end" fill="#000" font-weight="bold" textLength="26.40" lengthAdjust="spacingAndGlyphs" stroke="#000" stroke-width="0.3">ACCUM</text>
<text x="34.50" y="609.90" font-size="9.3" text-anchor="end" fill="#000" font-weight="bold" textLength="26.40" lengthAdjust="spacingAndGlyphs" stroke="#000" stroke-width="0.3">PRECIP</text>
<text x="53.27" y="639.00" font-size="11.8" text-anchor="middle" fill="#000" font-weight="bold" textLength="28.50" lengthAdjust="spacingAndGlyphs" stroke="#000" stroke-width="0.3">20/18</text>
<text x="53.27" y="651.30" font-size="11.0" text-anchor="middle" fill="#000" font-weight="bold" textLength="13.50" lengthAdjust="spacingAndGlyphs" stroke="#000" stroke-width="0.3">Fri</text>
<text x="100.56" y="639.00" font-size="11.8" text-anchor="middle" fill="#000" font-weight="bold" textLength="28.50" lengthAdjust="spacingAndGlyphs" stroke="#000" stroke-width="0.3">21/03</text>
<text x="100.56" y="651.30" font-size="11.0" text-anchor="middle" fill="#000" font-weight="bold" textLength="17.00" lengthAdjust="spacingAndGlyphs" stroke="#000" stroke-width="0.3">Sat</text>
<text x="147.86" y="639.00" font-size="11.8" text-anchor="middle" fill="#000" font-weight="bold" textLength="28.50" lengthAdjust="spacingAndGlyphs" stroke="#000" stroke-width="0.3">21/12</text>
<text x="147.86" y="651.30" font-size="11.0" text-anchor="middle" fill="#000" font-weight="bold" textLength="17.00" lengthAdjust="spacingAndGlyphs" stroke="#000" stroke-width="0.3">Sat</text>
<text x="195.16" y="639.00" font-size="11.8" text-anchor="middle" fill="#000" font-weight="bold" textLength="28.50" lengthAdjust="spacingAndGlyphs" stroke="#000" stroke-width="0.3">21/21</text>
<text x="195.16" y="651.30" font-size="11.0" text-anchor="middle" fill="#000" font-weight="bold" textLength="17.00" lengthAdjust="spacingAndGlyphs" stroke="#000" stroke-width="0.3">Sat</text>
<text x="242.46" y="639.00" font-size="11.8" text-anchor="middle" fill="#000" font-weight="bold" textLength="28.50" lengthAdjust="spacingAndGlyphs" stroke="#000" stroke-width="0.3">22/06</text>
<text x="242.46" y="651.30" font-size="11.0" text-anchor="middle" fill="#000" font-weight="bold" textLength="19.50" lengthAdjust="spacingAndGlyphs" stroke="#000" stroke-width="0.3">Sun</text>
<text x="289.76" y="639.00" font-size="11.8" text-anchor="middle" fill="#000" font-weight="bold" textLength="28.50" lengthAdjust="spacingAndGlyphs" stroke="#000" stroke-width="0.3">22/15</text>
<text x="289.76" y="651.30" font-size="11.0" text-anchor="middle" fill="#000" font-weight="bold" textLength="19.50" lengthAdjust="spacingAndGlyphs" stroke="#000" stroke-width="0.3">Sun</text>
<text x="337.06" y="639.00" font-size="11.8" text-anchor="middle" fill="#000" font-weight="bold" textLength="28.50" lengthAdjust="spacingAndGlyphs" stroke="#000" stroke-width="0.3">23/00</text>
<text x="337.06" y="651.30" font-size="11.0" text-anchor="middle" fill="#000" font-weight="bold" textLength="21.00" lengthAdjust="spacingAndGlyphs" stroke="#000" stroke-width="0.3">Mon</text>
<text x="384.35" y="639.00" font-size="11.8" text-anchor="middle" fill="#000" font-weight="bold" textLength="28.50" lengthAdjust="spacingAndGlyphs" stroke="#000" stroke-width="0.3">23/09</text>
<text x="384.35" y="651.30" font-size="11.0" text-anchor="middle" fill="#000" font-weight="bold" textLength="21.00" lengthAdjust="spacingAndGlyphs" stroke="#000" stroke-width="0.3">Mon</text>
<text x="431.65" y="639.00" font-size="11.8" text-anchor="middle" fill="#000" font-weight="bold" textLength="28.50" lengthAdjust="spacingAndGlyphs" stroke="#000" stroke-width="0.3">23/18</text>
<text x="431.65" y="651.30" font-size="11.0" text-anchor="middle" fill="#000" font-weight="bold" textLength="21.00" lengthAdjust="spacingAndGlyphs" stroke="#000" stroke-width="0.3">Mon</text>
<text x="478.95" y="639.00" font-size="11.8" text-anchor="middle" fill="#000" font-weight="bold" textLength="28.50" lengthAdjust="spacingAndGlyphs" stroke="#000" stroke-width="0.3">24/03</text>
<text x="478.95" y="651.30" font-size="11.0" text-anchor="middle" fill="#000" font-weight="bold" textLength="17.50" lengthAdjust="spacingAndGlyphs" stroke="#000" stroke-width="0.3">Tue</text>
<text x="526.25" y="639.00" font-size="11.8" text-anchor="middle" fill="#000" font-weight="bold" textLength="28.50" lengthAdjust="spacingAndGlyphs" stroke="#000" stroke-width="0.3">24/12</text>
<text x="526.25" y="651.30" font-size="11.0" text-anchor="middle" fill="#000" font-weight="bold" textLength="17.50" lengthAdjust="spacingAndGlyphs" stroke="#000" stroke-width="0.3">Tue</text>
<text x="573.55" y="639.00" font-size="11.8" text-anchor="middle" fill="#000" font-weight="bold" textLength="28.50" lengthAdjust="spacingAndGlyphs" stroke="#000" stroke-width="0.3">24/21</text>
<text x="573.55" y="651.30" font-size="11.0" text-anchor="middle" fill="#000" font-weight="bold" textLength="17.50" lengthAdjust="spacingAndGlyphs" stroke="#000" stroke-width="0.3">Tue</text>
<text x="620.85" y="639.00" font-size="11.8" text-anchor="middle" fill="#000" font-weight="bold" textLength="28.50" lengthAdjust="spacingAndGlyphs" stroke="#000" stroke-width="0.3">25/06</text>
<text x="620.85" y="651.30" font-size="11.0" text-anchor="middle" fill="#000" font-weight="bold" textLength="21.00" lengthAdjust="spacingAndGlyphs" stroke="#000" stroke-width="0.3">Wed</text>
<text x="668.15" y="639.00" font-size="11.8" text-anchor="middle" fill="#000" font-weight="bold" textLength="28.50" lengthAdjust="spacingAndGlyphs" stroke="#000" stroke-width="0.3">25/15</text>
<text x="668.15" y="651.30" font-size="11.0" text-anchor="middle" fill="#000" font-weight="bold" textLength="21.00" lengthAdjust="spacingAndGlyphs" stroke="#000" stroke-width="0.3">Wed</text>
<text x="715.44" y="639.00" font-size="11.8" text-anchor="middle" fill="#000" font-weight="bold" textLength="28.50" lengthAdjust="spacingAndGlyphs" stroke="#000" stroke-width="0.3">26/00</text>
<text x="715.44" y="651.30" font-size="11.0" text-anchor="middle" fill="#000" font-weight="bold" textLength="18.50" lengthAdjust="spacingAndGlyphs" stroke="#000" stroke-width="0.3">Thu</text>
<text x="762.74" y="639.00" font-size="11.8" text-anchor="middle" fill="#000" font-weight="bold" textLength="28.50" lengthAdjust="spacingAndGlyphs" stroke="#000" stroke-width="0.3">26/09</text>
<text x="762.74" y="651.30" font-size="11.0" text-anchor="middle" fill="#000" font-weight="bold" textLength="18.50" lengthAdjust="spacingAndGlyphs" stroke="#000" stroke-width="0.3">Thu</text>
<text x="810.04" y="639.00" font-size="11.8" text-anchor="middle" fill="#000" font-weight="bold" textLength="28.50" lengthAdjust="spacingAndGlyphs" stroke="#000" stroke-width="0.3">26/18</text>
<text x="810.04" y="651.30" font-size="11.0" text-anchor="middle" fill="#000" font-weight="bold" textLength="18.50" lengthAdjust="spacingAndGlyphs" stroke="#000" stroke-width="0.3">Thu</text>
<text x="857.34" y="639.00" font-size="11.8" text-anchor="middle" fill="#000" font-weight="bold" textLength="28.50" lengthAdjust="spacingAndGlyphs" stroke="#000" stroke-width="0.3">27/03</text>
<text x="857.34" y="651.30" font-size="11.0" text-anchor="middle" fill="#000" font-weight="bold" textLength="13.50" lengthAdjust="spacingAndGlyphs" stroke="#000" stroke-width="0.3">Fri</text>
<text x="904.64" y="639.00" font-size="11.8" text-anchor="middle" fill="#000" font-weight="bold" textLength="28.50" lengthAdjust="spacingAndGlyphs" stroke="#000" stroke-width="0.3">27/12</text>
<text x="904.64" y="651.30" font-size="11.0" text-anchor="middle" fill="#000" font-weight="bold" textLength="13.50" lengthAdjust="spacingAndGlyphs" stroke="#000" stroke-width="0.3">Fri</text>
<text x="951.94" y="639.00" font-size="11.8" text-anchor="middle" fill="#000" font-weight="bold" textLength="28.50" lengthAdjust="spacingAndGlyphs" stroke="#000" stroke-width="0.3">27/21</text>
<text x="951.94" y="651.30" font-size="11.0" text-anchor="middle" fill="#000" font-weight="bold" textLength="13.50" lengthAdjust="spacingAndGlyphs" stroke="#000" stroke-width="0.3">Fri</text>
<text x="999.23" y="639.00" font-size="11.8" text-anchor="middle" fill="#000" font-weight="bold" textLength="28.50" lengthAdjust="spacingAndGlyphs" stroke="#000" stroke-width="0.3">28/06</text>
<text x="999.23" y="651.30" font-size="11.0" text-anchor="middle" fill="#000" font-weight="bold" textLength="17.00" lengthAdjust="spacingAndGlyphs" stroke="#000" stroke-width="0.3">Sat</text>
<rect x="45.38" y="657.00" width="16.17" height="27.50" fill="#d3d3d3"/>
<rect x="61.15" y="657.00" width="31.93" height="27.50" fill="#ffffff"/>
<rect x="92.68" y="657.00" width="16.17" height="27.50" fill="#4896f0"/>
<rect x="108.45" y="657.00" width="16.17" height="27.50" fill="#2c7ce8"/>
<rect x="124.21" y="657.00" width="16.17" height="27.50" fill="#1c60d0"/>
<rect x="139.98" y="657.00" width="16.17" height="27.50" fill="#bebebe"/>
<rect x="155.75" y="657.00" width="16.17" height="27.50" fill="#2c7ce8"/>
<rect x="171.51" y="657.00" width="16.17" height="27.50" fill="#1c60d0"/>
<rect x="187.28" y="657.00" width="16.17" height="27.50" fill="#969696"/>
<rect x="203.04" y="657.00" width="47.70" height="27.50" fill="#ffffff"/>
<rect x="250.34" y="657.00" width="31.93" height="27.50" fill="#d3d3d3"/>
<rect x="281.88" y="657.00" width="16.17" height="27.50" fill="#bebebe"/>
<rect x="297.64" y="657.00" width="16.17" height="27.50" fill="#d3d3d3"/>
<rect x="313.41" y="657.00" width="31.93" height="27.50" fill="#2c7ce8"/>
<rect x="344.94" y="657.00" width="16.17" height="27.50" fill="#4896f0"/>
<rect x="360.71" y="657.00" width="16.17" height="27.50" fill="#8ec6f8"/>
<rect x="376.47" y="657.00" width="16.17" height="27.50" fill="#30c030"/>
<rect x="392.24" y="657.00" width="16.17" height="27.50" fill="#3ccc3c"/>
<rect x="408.00" y="657.00" width="31.93" height="27.50" fill="#48d848"/>
<rect x="439.54" y="657.00" width="16.17" height="27.50" fill="#30c030"/>
<rect x="455.30" y="657.00" width="16.17" height="27.50" fill="#8ec6f8"/>
<rect x="471.07" y="657.00" width="16.17" height="27.50" fill="#2c7ce8"/>
<rect x="486.83" y="657.00" width="31.93" height="27.50" fill="#4896f0"/>
<rect x="518.37" y="657.00" width="16.17" height="27.50" fill="#2c7ce8"/>
<rect x="534.13" y="657.00" width="16.17" height="27.50" fill="#4896f0"/>
<rect x="549.90" y="657.00" width="31.93" height="27.50" fill="#2c7ce8"/>
<rect x="581.43" y="657.00" width="47.70" height="27.50" fill="#d3d3d3"/>
<rect x="628.73" y="657.00" width="16.17" height="27.50" fill="#ffffff"/>
<rect x="644.50" y="657.00" width="16.17" height="27.50" fill="#d3d3d3"/>
<rect x="660.26" y="657.00" width="16.17" height="27.50" fill="#bebebe"/>
<rect x="676.03" y="657.00" width="16.17" height="27.50" fill="#969696"/>
<rect x="691.79" y="657.00" width="16.17" height="27.50" fill="#1c60d0"/>
<rect x="707.56" y="657.00" width="16.17" height="27.50" fill="#bebebe"/>
<rect x="723.33" y="657.00" width="31.93" height="27.50" fill="#1c60d0"/>
<rect x="754.86" y="657.00" width="47.70" height="27.50" fill="#bebebe"/>
<rect x="802.16" y="657.00" width="16.17" height="27.50" fill="#d3d3d3"/>
<rect x="817.92" y="657.00" width="16.17" height="27.50" fill="#bebebe"/>
<rect x="833.69" y="657.00" width="16.17" height="27.50" fill="#2c7ce8"/>
<rect x="849.46" y="657.00" width="16.17" height="27.50" fill="#1c60d0"/>
<rect x="865.22" y="657.00" width="16.17" height="27.50" fill="#bebebe"/>
<rect x="880.99" y="657.00" width="16.17" height="27.50" fill="#ffffff"/>
<rect x="896.75" y="657.00" width="31.93" height="27.50" fill="#a8e0fa"/>
<rect x="928.29" y="657.00" width="16.17" height="27.50" fill="#8ec6f8"/>
<rect x="944.05" y="657.00" width="16.17" height="27.50" fill="#4896f0"/>
<rect x="959.82" y="657.00" width="16.17" height="27.50" fill="#bebebe"/>
<rect x="975.58" y="657.00" width="16.17" height="27.50" fill="#d3d3d3"/>
<rect x="991.35" y="657.00" width="15.77" height="27.50" fill="#ffffff"/>
<rect x="37.50" y="657.00" width="977.50" height="27.50" fill="none" stroke="#000" stroke-width="1.4"/>
<text x="53.27" y="675.20" font-size="11.8" text-anchor="middle" fill="#000" font-weight="bold" textLength="5.60" lengthAdjust="spacingAndGlyphs" stroke="#000" stroke-width="0.3">5</text>
<text x="69.03" y="675.20" font-size="11.8" text-anchor="middle" fill="#000" font-weight="bold" textLength="5.60" lengthAdjust="spacingAndGlyphs" stroke="#000" stroke-width="0.3">4</text>
<text x="84.80" y="675.20" font-size="11.8" text-anchor="middle" fill="#000" font-weight="bold" textLength="5.60" lengthAdjust="spacingAndGlyphs" stroke="#000" stroke-width="0.3">2</text>
<text x="100.56" y="675.20" font-size="11.8" text-anchor="middle" fill="#000" font-weight="bold" textLength="11.40" lengthAdjust="spacingAndGlyphs" stroke="#000" stroke-width="0.3">16</text>
<text x="116.33" y="675.20" font-size="11.8" text-anchor="middle" fill="#000" font-weight="bold" textLength="11.40" lengthAdjust="spacingAndGlyphs" stroke="#000" stroke-width="0.3">12</text>
<text x="132.10" y="675.20" font-size="11.8" text-anchor="middle" fill="#000" font-weight="bold" textLength="11.40" lengthAdjust="spacingAndGlyphs" stroke="#000" stroke-width="0.3">11</text>
<text x="147.86" y="675.20" font-size="11.8" text-anchor="middle" fill="#000" font-weight="bold" textLength="5.60" lengthAdjust="spacingAndGlyphs" stroke="#000" stroke-width="0.3">6</text>
<text x="163.63" y="675.20" font-size="11.8" text-anchor="middle" fill="#000" font-weight="bold" textLength="11.40" lengthAdjust="spacingAndGlyphs" stroke="#000" stroke-width="0.3">12</text>
<text x="179.40" y="675.20" font-size="11.8" text-anchor="middle" fill="#000" font-weight="bold" textLength="11.40" lengthAdjust="spacingAndGlyphs" stroke="#000" stroke-width="0.3">11</text>
<text x="195.16" y="675.20" font-size="11.8" text-anchor="middle" fill="#000" font-weight="bold" textLength="5.60" lengthAdjust="spacingAndGlyphs" stroke="#000" stroke-width="0.3">8</text>
<text x="210.93" y="675.20" font-size="11.8" text-anchor="middle" fill="#000" font-weight="bold" textLength="5.60" lengthAdjust="spacingAndGlyphs" stroke="#000" stroke-width="0.3">4</text>
<text x="226.69" y="675.20" font-size="11.8" text-anchor="middle" fill="#000" font-weight="bold" textLength="5.60" lengthAdjust="spacingAndGlyphs" stroke="#000" stroke-width="0.3">2</text>
<text x="242.46" y="675.20" font-size="11.8" text-anchor="middle" fill="#000" font-weight="bold" textLength="5.60" lengthAdjust="spacingAndGlyphs" stroke="#000" stroke-width="0.3">1</text>
<text x="258.23" y="675.20" font-size="11.8" text-anchor="middle" fill="#000" font-weight="bold" textLength="5.60" lengthAdjust="spacingAndGlyphs" stroke="#000" stroke-width="0.3">4</text>
<text x="273.99" y="675.20" font-size="11.8" text-anchor="middle" fill="#000" font-weight="bold" textLength="5.60" lengthAdjust="spacingAndGlyphs" stroke="#000" stroke-width="0.3">4</text>
<text x="289.76" y="675.20" font-size="11.8" text-anchor="middle" fill="#000" font-weight="bold" textLength="5.60" lengthAdjust="spacingAndGlyphs" stroke="#000" stroke-width="0.3">7</text>
<text x="305.52" y="675.20" font-size="11.8" text-anchor="middle" fill="#000" font-weight="bold" textLength="5.60" lengthAdjust="spacingAndGlyphs" stroke="#000" stroke-width="0.3">5</text>
<text x="321.29" y="675.20" font-size="11.8" text-anchor="middle" fill="#000" font-weight="bold" textLength="11.40" lengthAdjust="spacingAndGlyphs" stroke="#000" stroke-width="0.3">13</text>
<text x="337.06" y="675.20" font-size="11.8" text-anchor="middle" fill="#000" font-weight="bold" textLength="11.40" lengthAdjust="spacingAndGlyphs" stroke="#000" stroke-width="0.3">13</text>
<text x="352.82" y="675.20" font-size="11.8" text-anchor="middle" fill="#000" font-weight="bold" textLength="11.40" lengthAdjust="spacingAndGlyphs" stroke="#000" stroke-width="0.3">15</text>
<text x="368.59" y="675.20" font-size="11.8" text-anchor="middle" fill="#000" font-weight="bold" textLength="11.40" lengthAdjust="spacingAndGlyphs" stroke="#000" stroke-width="0.3">18</text>
<text x="384.35" y="675.20" font-size="11.8" text-anchor="middle" fill="#000" font-weight="bold" textLength="11.40" lengthAdjust="spacingAndGlyphs" stroke="#000" stroke-width="0.3">20</text>
<text x="400.12" y="675.20" font-size="11.8" text-anchor="middle" fill="#000" font-weight="bold" textLength="11.40" lengthAdjust="spacingAndGlyphs" stroke="#000" stroke-width="0.3">22</text>
<text x="415.89" y="675.20" font-size="11.8" text-anchor="middle" fill="#000" font-weight="bold" textLength="11.40" lengthAdjust="spacingAndGlyphs" stroke="#000" stroke-width="0.3">23</text>
<text x="431.65" y="675.20" font-size="11.8" text-anchor="middle" fill="#000" font-weight="bold" textLength="11.40" lengthAdjust="spacingAndGlyphs" stroke="#000" stroke-width="0.3">23</text>
<text x="447.42" y="675.20" font-size="11.8" text-anchor="middle" fill="#000" font-weight="bold" textLength="11.40" lengthAdjust="spacingAndGlyphs" stroke="#000" stroke-width="0.3">20</text>
<text x="463.19" y="675.20" font-size="11.8" text-anchor="middle" fill="#000" font-weight="bold" textLength="11.40" lengthAdjust="spacingAndGlyphs" stroke="#000" stroke-width="0.3">17</text>
<text x="478.95" y="675.20" font-size="11.8" text-anchor="middle" fill="#000" font-weight="bold" textLength="11.40" lengthAdjust="spacingAndGlyphs" stroke="#000" stroke-width="0.3">13</text>
<text x="494.72" y="675.20" font-size="11.8" text-anchor="middle" fill="#000" font-weight="bold" textLength="11.40" lengthAdjust="spacingAndGlyphs" stroke="#000" stroke-width="0.3">16</text>
<text x="510.48" y="675.20" font-size="11.8" text-anchor="middle" fill="#000" font-weight="bold" textLength="11.40" lengthAdjust="spacingAndGlyphs" stroke="#000" stroke-width="0.3">15</text>
<text x="526.25" y="675.20" font-size="11.8" text-anchor="middle" fill="#000" font-weight="bold" textLength="11.40" lengthAdjust="spacingAndGlyphs" stroke="#000" stroke-width="0.3">14</text>
<text x="542.02" y="675.20" font-size="11.8" text-anchor="middle" fill="#000" font-weight="bold" textLength="11.40" lengthAdjust="spacingAndGlyphs" stroke="#000" stroke-width="0.3">15</text>
<text x="557.78" y="675.20" font-size="11.8" text-anchor="middle" fill="#000" font-weight="bold" textLength="11.40" lengthAdjust="spacingAndGlyphs" stroke="#000" stroke-width="0.3">13</text>
<text x="573.55" y="675.20" font-size="11.8" text-anchor="middle" fill="#000" font-weight="bold" textLength="11.40" lengthAdjust="spacingAndGlyphs" stroke="#000" stroke-width="0.3">12</text>
<text x="589.31" y="675.20" font-size="11.8" text-anchor="middle" fill="#000" font-weight="bold" textLength="5.60" lengthAdjust="spacingAndGlyphs" stroke="#000" stroke-width="0.3">6</text>
<text x="605.08" y="675.20" font-size="11.8" text-anchor="middle" fill="#000" font-weight="bold" textLength="5.60" lengthAdjust="spacingAndGlyphs" stroke="#000" stroke-width="0.3">4</text>
<text x="620.85" y="675.20" font-size="11.8" text-anchor="middle" fill="#000" font-weight="bold" textLength="5.60" lengthAdjust="spacingAndGlyphs" stroke="#000" stroke-width="0.3">5</text>
<text x="636.61" y="675.20" font-size="11.8" text-anchor="middle" fill="#000" font-weight="bold" textLength="5.60" lengthAdjust="spacingAndGlyphs" stroke="#000" stroke-width="0.3">4</text>
<text x="652.38" y="675.20" font-size="11.8" text-anchor="middle" fill="#000" font-weight="bold" textLength="5.60" lengthAdjust="spacingAndGlyphs" stroke="#000" stroke-width="0.3">4</text>
<text x="668.15" y="675.20" font-size="11.8" text-anchor="middle" fill="#000" font-weight="bold" textLength="5.60" lengthAdjust="spacingAndGlyphs" stroke="#000" stroke-width="0.3">7</text>
<text x="683.91" y="675.20" font-size="11.8" text-anchor="middle" fill="#000" font-weight="bold" textLength="5.60" lengthAdjust="spacingAndGlyphs" stroke="#000" stroke-width="0.3">9</text>
<text x="699.68" y="675.20" font-size="11.8" text-anchor="middle" fill="#000" font-weight="bold" textLength="11.40" lengthAdjust="spacingAndGlyphs" stroke="#000" stroke-width="0.3">10</text>
<text x="715.44" y="675.20" font-size="11.8" text-anchor="middle" fill="#000" font-weight="bold" textLength="5.60" lengthAdjust="spacingAndGlyphs" stroke="#000" stroke-width="0.3">7</text>
<text x="731.21" y="675.20" font-size="11.8" text-anchor="middle" fill="#000" font-weight="bold" textLength="11.40" lengthAdjust="spacingAndGlyphs" stroke="#000" stroke-width="0.3">11</text>
<text x="746.98" y="675.20" font-size="11.8" text-anchor="middle" fill="#000" font-weight="bold" textLength="11.40" lengthAdjust="spacingAndGlyphs" stroke="#000" stroke-width="0.3">10</text>
<text x="762.74" y="675.20" font-size="11.8" text-anchor="middle" fill="#000" font-weight="bold" textLength="5.60" lengthAdjust="spacingAndGlyphs" stroke="#000" stroke-width="0.3">7</text>
<text x="778.51" y="675.20" font-size="11.8" text-anchor="middle" fill="#000" font-weight="bold" textLength="5.60" lengthAdjust="spacingAndGlyphs" stroke="#000" stroke-width="0.3">6</text>
<text x="794.27" y="675.20" font-size="11.8" text-anchor="middle" fill="#000" font-weight="bold" textLength="5.60" lengthAdjust="spacingAndGlyphs" stroke="#000" stroke-width="0.3">8</text>
<text x="810.04" y="675.20" font-size="11.8" text-anchor="middle" fill="#000" font-weight="bold" textLength="5.60" lengthAdjust="spacingAndGlyphs" stroke="#000" stroke-width="0.3">6</text>
<text x="825.81" y="675.20" font-size="11.8" text-anchor="middle" fill="#000" font-weight="bold" textLength="5.60" lengthAdjust="spacingAndGlyphs" stroke="#000" stroke-width="0.3">7</text>
<text x="841.57" y="675.20" font-size="11.8" text-anchor="middle" fill="#000" font-weight="bold" textLength="11.40" lengthAdjust="spacingAndGlyphs" stroke="#000" stroke-width="0.3">13</text>
<text x="857.34" y="675.20" font-size="11.8" text-anchor="middle" fill="#000" font-weight="bold" textLength="11.40" lengthAdjust="spacingAndGlyphs" stroke="#000" stroke-width="0.3">10</text>
<text x="873.10" y="675.20" font-size="11.8" text-anchor="middle" fill="#000" font-weight="bold" textLength="5.60" lengthAdjust="spacingAndGlyphs" stroke="#000" stroke-width="0.3">6</text>
<text x="888.87" y="675.20" font-size="11.8" text-anchor="middle" fill="#000" font-weight="bold" textLength="5.60" lengthAdjust="spacingAndGlyphs" stroke="#000" stroke-width="0.3">4</text>
<text x="904.64" y="675.20" font-size="11.8" text-anchor="middle" fill="#000" font-weight="bold" textLength="11.40" lengthAdjust="spacingAndGlyphs" stroke="#000" stroke-width="0.3">19</text>
<text x="920.40" y="675.20" font-size="11.8" text-anchor="middle" fill="#000" font-weight="bold" textLength="11.40" lengthAdjust="spacingAndGlyphs" stroke="#000" stroke-width="0.3">19</text>
<text x="936.17" y="675.20" font-size="11.8" text-anchor="middle" fill="#000" font-weight="bold" textLength="11.40" lengthAdjust="spacingAndGlyphs" stroke="#000" stroke-width="0.3">18</text>
<text x="951.94" y="675.20" font-size="11.8" text-anchor="middle" fill="#000" font-weight="bold" textLength="11.40" lengthAdjust="spacingAndGlyphs" stroke="#000" stroke-width="0.3">15</text>
<text x="967.70" y="675.20" font-size="11.8" text-anchor="middle" fill="#000" font-weight="bold" textLength="5.60" lengthAdjust="spacingAndGlyphs" stroke="#000" stroke-width="0.3">8</text>
<text x="983.47" y="675.20" font-size="11.8" text-anchor="middle" fill="#000" font-weight="bold" textLength="5.60" lengthAdjust="spacingAndGlyphs" stroke="#000" stroke-width="0.3">5</text>
<text x="999.23" y="675.20" font-size="11.8" text-anchor="middle" fill="#000" font-weight="bold" textLength="5.60" lengthAdjust="spacingAndGlyphs" stroke="#000" stroke-width="0.3">2</text>
<text x="32.40" y="671.60" font-size="9.3" text-anchor="end" fill="#000" font-weight="bold" textLength="20.50" lengthAdjust="spacingAndGlyphs" stroke="#000" stroke-width="0.3">WIND</text>
<text x="32.40" y="682.60" font-size="9.3" text-anchor="end" fill="#000" font-weight="bold" textLength="24.20" lengthAdjust="spacingAndGlyphs" stroke="#000" stroke-width="0.3">SPEED</text>
<polygon points="53.45,710.18 46.06,707.81 48.31,706.01 42.07,707.16 46.48,711.72 45.69,708.95 53.08,711.32" fill="#000" stroke="#000" stroke-width="0.5" stroke-linejoin="round"/>
<polygon points="69.31,710.29 61.86,706.42 64.38,705.02 58.03,705.10 61.62,710.35 61.30,707.48 68.76,711.36" fill="#000" stroke="#000" stroke-width="0.5" stroke-linejoin="round"/>
<polygon points="85.40,711.10 85.40,700.93 87.80,702.53 84.80,696.93 81.80,702.53 84.20,700.93 84.20,711.10" fill="#000" stroke="#000" stroke-width="0.5" stroke-linejoin="round"/>
<polygon points="100.53,711.20 108.03,711.69 106.28,713.98 112.06,711.35 106.67,707.99 108.11,710.49 100.60,710.00" fill="#000" stroke="#000" stroke-width="0.5" stroke-linejoin="round"/>
<polygon points="116.11,711.16 123.64,714.17 121.27,715.81 127.58,715.10 123.50,710.23 124.09,713.06 116.55,710.04" fill="#000" stroke="#000" stroke-width="0.5" stroke-linejoin="round"/>
<polygon points="131.83,711.14 138.75,714.60 136.25,716.03 142.60,715.85 138.93,710.66 139.29,713.52 132.37,710.06" fill="#000" stroke="#000" stroke-width="0.5" stroke-linejoin="round"/>
<polygon points="147.69,711.18 154.86,713.29 152.64,715.14 158.86,713.85 154.34,709.39 155.20,712.14 148.03,710.02" fill="#000" stroke="#000" stroke-width="0.5" stroke-linejoin="round"/>
<polygon points="163.33,711.12 170.05,714.91 167.48,716.21 173.83,716.35 170.42,710.99 170.64,713.86 163.92,710.08" fill="#000" stroke="#000" stroke-width="0.5" stroke-linejoin="round"/>
<polygon points="179.13,711.14 186.24,714.63 183.75,716.08 190.10,715.85 186.39,710.69 186.77,713.55 179.66,710.06" fill="#000" stroke="#000" stroke-width="0.5" stroke-linejoin="round"/>
<polygon points="194.62,710.85 199.12,720.48 196.27,720.05 201.36,723.85 201.71,717.51 200.21,719.97 195.70,710.35" fill="#000" stroke="#000" stroke-width="0.5" stroke-linejoin="round"/>
<polygon points="210.35,710.43 207.62,719.84 205.76,717.64 207.08,723.85 211.52,719.31 208.77,720.18 211.50,710.77" fill="#000" stroke="#000" stroke-width="0.5" stroke-linejoin="round"/>
<polygon points="226.67,710.00 219.06,710.33 220.56,707.86 215.09,711.10 220.82,713.86 219.12,711.53 226.72,711.20" fill="#000" stroke="#000" stroke-width="0.5" stroke-linejoin="round"/>
<polygon points="242.83,710.43 236.06,705.02 238.81,704.15 232.56,702.99 235.06,708.83 235.31,705.96 242.09,711.37" fill="#000" stroke="#000" stroke-width="0.5" stroke-linejoin="round"/>
<polygon points="257.85,710.13 251.58,715.14 251.33,712.26 248.83,718.10 255.07,716.95 252.33,716.07 258.60,711.07" fill="#000" stroke="#000" stroke-width="0.5" stroke-linejoin="round"/>
<polygon points="274.07,710.07 266.64,709.08 268.54,706.91 262.59,709.15 267.75,712.86 266.48,710.27 273.91,711.26" fill="#000" stroke="#000" stroke-width="0.5" stroke-linejoin="round"/>
<polygon points="289.66,710.01 281.90,711.33 283.07,708.70 278.06,712.60 284.08,714.61 282.10,712.52 289.86,711.19" fill="#000" stroke="#000" stroke-width="0.5" stroke-linejoin="round"/>
<polygon points="305.15,710.13 298.79,715.15 298.56,712.28 296.02,718.10 302.28,716.98 299.54,716.09 305.90,711.07" fill="#000" stroke="#000" stroke-width="0.5" stroke-linejoin="round"/>
<polygon points="320.94,710.11 314.48,714.77 314.38,711.89 311.59,717.60 317.89,716.76 315.19,715.75 321.64,711.09" fill="#000" stroke="#000" stroke-width="0.5" stroke-linejoin="round"/>
<polygon points="336.54,710.29 331.62,718.37 330.41,715.76 330.06,722.10 335.53,718.88 332.65,719.00 337.57,710.91" fill="#000" stroke="#000" stroke-width="0.5" stroke-linejoin="round"/>
<polygon points="352.23,710.69 353.63,719.98 351.02,718.76 354.82,723.85 356.95,717.86 354.82,719.81 353.42,710.51" fill="#000" stroke="#000" stroke-width="0.5" stroke-linejoin="round"/>
<polygon points="368.00,710.71 369.76,720.03 367.10,718.90 371.09,723.85 373.00,717.79 370.94,719.81 369.18,710.49" fill="#000" stroke="#000" stroke-width="0.5" stroke-linejoin="round"/>
<polygon points="383.78,710.79 386.73,719.74 383.95,718.97 388.55,723.35 389.65,717.09 387.87,719.36 384.92,710.41" fill="#000" stroke="#000" stroke-width="0.5" stroke-linejoin="round"/>
<polygon points="399.57,710.84 403.49,719.91 400.65,719.40 405.62,723.35 406.16,717.02 404.59,719.44 400.67,710.36" fill="#000" stroke="#000" stroke-width="0.5" stroke-linejoin="round"/>
<polygon points="415.34,710.85 419.42,719.72 416.57,719.27 421.64,723.10 422.02,716.76 420.51,719.22 416.43,710.35" fill="#000" stroke="#000" stroke-width="0.5" stroke-linejoin="round"/>
<polygon points="431.12,710.88 435.52,719.33 432.66,719.02 437.90,722.60 437.98,716.25 436.59,718.78 432.19,710.32" fill="#000" stroke="#000" stroke-width="0.5" stroke-linejoin="round"/>
<polygon points="446.89,710.88 451.29,719.33 448.42,719.02 453.67,722.60 453.74,716.25 452.35,718.78 447.95,710.32" fill="#000" stroke="#000" stroke-width="0.5" stroke-linejoin="round"/>
<polygon points="462.69,710.94 467.90,718.41 465.02,718.47 470.69,721.35 469.94,715.04 468.89,717.73 463.68,710.26" fill="#000" stroke="#000" stroke-width="0.5" stroke-linejoin="round"/>
<polygon points="478.50,711.00 484.21,717.49 481.35,717.87 487.30,720.10 485.86,713.91 485.11,716.70 479.40,710.20" fill="#000" stroke="#000" stroke-width="0.5" stroke-linejoin="round"/>
<polygon points="494.34,711.07 500.57,716.07 497.82,716.94 504.07,718.10 501.58,712.26 501.32,715.13 495.09,710.13" fill="#000" stroke="#000" stroke-width="0.5" stroke-linejoin="round"/>
<polygon points="510.12,711.08 516.23,715.67 513.51,716.63 519.78,717.60 517.11,711.84 516.95,714.72 510.84,710.12" fill="#000" stroke="#000" stroke-width="0.5" stroke-linejoin="round"/>
<polygon points="525.91,711.09 531.93,715.30 529.24,716.35 535.55,717.10 532.68,711.43 532.62,714.32 526.59,710.11" fill="#000" stroke="#000" stroke-width="0.5" stroke-linejoin="round"/>
<polygon points="541.66,711.08 547.76,715.67 545.04,716.63 551.32,717.60 548.65,711.84 548.48,714.72 542.38,710.12" fill="#000" stroke="#000" stroke-width="0.5" stroke-linejoin="round"/>
<polygon points="557.58,711.16 564.82,713.80 562.49,715.51 568.78,714.60 564.54,709.87 565.23,712.67 557.99,710.04" fill="#000" stroke="#000" stroke-width="0.5" stroke-linejoin="round"/>
<polygon points="573.60,711.24 581.12,710.58 579.73,713.11 585.05,709.64 579.21,707.14 581.01,709.39 573.50,710.05" fill="#000" stroke="#000" stroke-width="0.5" stroke-linejoin="round"/>
<polygon points="589.77,711.36 595.46,704.56 596.28,707.32 597.56,701.10 591.67,703.47 594.54,703.79 588.85,710.59" fill="#000" stroke="#000" stroke-width="0.5" stroke-linejoin="round"/>
<polygon points="605.68,711.03 604.60,700.85 607.15,702.19 603.58,696.93 601.19,702.82 603.41,700.98 604.48,711.16" fill="#000" stroke="#000" stroke-width="0.5" stroke-linejoin="round"/>
<polygon points="621.44,711.15 622.34,700.97 624.59,702.78 622.10,696.93 618.62,702.25 621.15,700.86 620.25,711.04" fill="#000" stroke="#000" stroke-width="0.5" stroke-linejoin="round"/>
<polygon points="636.97,710.41 630.68,705.70 633.39,704.74 627.11,703.79 629.80,709.54 629.96,706.66 636.25,711.37" fill="#000" stroke="#000" stroke-width="0.5" stroke-linejoin="round"/>
<polygon points="652.69,710.34 645.85,706.16 648.47,704.94 642.13,704.58 645.34,710.06 645.23,707.18 652.07,711.36" fill="#000" stroke="#000" stroke-width="0.5" stroke-linejoin="round"/>
<polygon points="668.73,710.93 666.22,701.22 668.95,702.17 664.65,697.50 663.14,703.67 665.06,701.52 667.56,711.23" fill="#000" stroke="#000" stroke-width="0.5" stroke-linejoin="round"/>
<polygon points="684.51,711.12 684.87,700.95 687.21,702.63 684.41,696.93 681.22,702.42 683.67,700.91 683.31,711.08" fill="#000" stroke="#000" stroke-width="0.5" stroke-linejoin="round"/>
<polygon points="700.23,711.29 704.14,702.25 705.71,704.68 705.18,698.35 700.20,702.29 703.04,701.78 699.13,710.81" fill="#000" stroke="#000" stroke-width="0.5" stroke-linejoin="round"/>
<polygon points="715.93,711.35 721.33,703.88 722.34,706.58 723.19,700.28 717.48,703.06 720.36,703.17 714.96,710.64" fill="#000" stroke="#000" stroke-width="0.5" stroke-linejoin="round"/>
<polygon points="731.52,711.36 738.36,707.18 738.25,710.06 741.46,704.58 735.12,704.94 737.73,706.16 730.90,710.34" fill="#000" stroke="#000" stroke-width="0.5" stroke-linejoin="round"/>
<polygon points="746.64,711.10 752.84,715.34 750.16,716.41 756.48,717.10 753.55,711.46 753.51,714.35 747.31,710.10" fill="#000" stroke="#000" stroke-width="0.5" stroke-linejoin="round"/>
<polygon points="762.84,711.27 770.13,710.12 768.93,712.74 773.99,708.90 767.99,706.81 769.95,708.93 762.65,710.08" fill="#000" stroke="#000" stroke-width="0.5" stroke-linejoin="round"/>
<polygon points="778.53,711.22 786.04,710.89 784.54,713.36 790.01,710.12 784.28,707.37 785.99,709.69 778.48,710.02" fill="#000" stroke="#000" stroke-width="0.5" stroke-linejoin="round"/>
<polygon points="793.86,711.04 799.70,716.54 796.89,717.19 803.02,718.85 801.01,712.83 800.53,715.67 794.69,710.16" fill="#000" stroke="#000" stroke-width="0.5" stroke-linejoin="round"/>
<polygon points="809.44,710.62 809.79,719.88 807.33,718.37 810.54,723.85 813.33,718.14 810.99,719.83 810.64,710.58" fill="#000" stroke="#000" stroke-width="0.5" stroke-linejoin="round"/>
<polygon points="825.83,710.02 818.33,709.69 820.03,707.37 814.31,710.12 819.77,713.36 818.28,710.89 825.78,711.22" fill="#000" stroke="#000" stroke-width="0.5" stroke-linejoin="round"/>
<polygon points="841.57,710.00 834.07,710.00 835.67,707.60 830.07,710.60 835.67,713.60 834.07,711.20 841.57,711.20" fill="#000" stroke="#000" stroke-width="0.5" stroke-linejoin="round"/>
<polygon points="857.47,710.12 849.63,708.42 851.70,706.41 845.59,708.16 850.43,712.28 849.37,709.59 857.21,711.29" fill="#000" stroke="#000" stroke-width="0.5" stroke-linejoin="round"/>
<polygon points="872.88,710.04 865.35,713.06 865.94,710.23 861.85,715.10 868.17,715.81 865.79,714.17 873.33,711.16" fill="#000" stroke="#000" stroke-width="0.5" stroke-linejoin="round"/>
<polygon points="888.65,711.16 896.18,714.17 893.81,715.81 900.12,715.10 896.04,710.23 896.63,713.06 889.09,710.04" fill="#000" stroke="#000" stroke-width="0.5" stroke-linejoin="round"/>
<polygon points="904.66,711.22 912.17,710.89 910.67,713.36 916.14,710.12 910.41,707.37 912.11,709.69 904.61,710.02" fill="#000" stroke="#000" stroke-width="0.5" stroke-linejoin="round"/>
<polygon points="920.21,711.17 927.93,713.85 925.63,715.59 931.90,714.60 927.60,709.93 928.32,712.72 920.60,710.03" fill="#000" stroke="#000" stroke-width="0.5" stroke-linejoin="round"/>
<polygon points="936.07,711.19 943.53,712.50 941.54,714.59 947.57,712.60 942.57,708.68 943.73,711.32 936.27,710.01" fill="#000" stroke="#000" stroke-width="0.5" stroke-linejoin="round"/>
<polygon points="951.83,711.19 959.14,712.49 957.15,714.57 963.19,712.60 958.20,708.67 959.35,711.31 952.04,710.01" fill="#000" stroke="#000" stroke-width="0.5" stroke-linejoin="round"/>
<polygon points="967.50,711.16 974.74,713.80 972.41,715.51 978.70,714.60 974.46,709.87 975.15,712.67 967.91,710.04" fill="#000" stroke="#000" stroke-width="0.5" stroke-linejoin="round"/>
<polygon points="983.26,711.16 990.50,713.80 988.18,715.51 994.47,714.60 990.23,709.87 990.91,712.67 983.67,710.04" fill="#000" stroke="#000" stroke-width="0.5" stroke-linejoin="round"/>
<polygon points="999.81,711.25 1002.68,701.51 1004.53,703.72 1003.23,697.50 998.77,702.03 1001.53,701.17 998.66,710.91" fill="#000" stroke="#000" stroke-width="0.5" stroke-linejoin="round"/>
<rect x="45.38" y="723.75" width="16.17" height="27.85" fill="#1c60d0"/>
<rect x="61.15" y="723.75" width="16.17" height="27.85" fill="#969696"/>
<rect x="76.92" y="723.75" width="16.17" height="27.85" fill="#ffffff"/>
<rect x="92.68" y="723.75" width="16.17" height="27.85" fill="#b8f6b0"/>
<rect x="108.45" y="723.75" width="16.17" height="27.85" fill="#88e880"/>
<rect x="124.21" y="723.75" width="16.17" height="27.85" fill="#68e060"/>
<rect x="139.98" y="723.75" width="16.17" height="27.85" fill="#4896f0"/>
<rect x="155.75" y="723.75" width="16.17" height="27.85" fill="#a8e0fa"/>
<rect x="171.51" y="723.75" width="16.17" height="27.85" fill="#4896f0"/>
<rect x="187.28" y="723.75" width="16.17" height="27.85" fill="#2c7ce8"/>
<rect x="203.04" y="723.75" width="47.70" height="27.85" fill="#ffffff"/>
<rect x="250.34" y="723.75" width="16.17" height="27.85" fill="#bebebe"/>
<rect x="266.11" y="723.75" width="16.17" height="27.85" fill="#969696"/>
<rect x="281.88" y="723.75" width="16.17" height="27.85" fill="#4896f0"/>
<rect x="297.64" y="723.75" width="16.17" height="27.85" fill="#1c60d0"/>
<rect x="313.41" y="723.75" width="47.70" height="27.85" fill="#88e880"/>
<rect x="360.71" y="723.75" width="16.17" height="27.85" fill="#b8f6b0"/>
<rect x="376.47" y="723.75" width="16.17" height="27.85" fill="#fff4a0"/>
<rect x="392.24" y="723.75" width="16.17" height="27.85" fill="#ffe880"/>
<rect x="408.00" y="723.75" width="31.93" height="27.85" fill="#ffe070"/>
<rect x="439.54" y="723.75" width="16.17" height="27.85" fill="#fff4a0"/>
<rect x="455.30" y="723.75" width="16.17" height="27.85" fill="#b8f6b0"/>
<rect x="471.07" y="723.75" width="16.17" height="27.85" fill="#88e880"/>
<rect x="486.83" y="723.75" width="16.17" height="27.85" fill="#b8f6b0"/>
<rect x="502.60" y="723.75" width="16.17" height="27.85" fill="#a8f2a0"/>
<rect x="518.37" y="723.75" width="16.17" height="27.85" fill="#88e880"/>
<rect x="534.13" y="723.75" width="16.17" height="27.85" fill="#3ccc3c"/>
<rect x="549.90" y="723.75" width="16.17" height="27.85" fill="#a8e0fa"/>
<rect x="565.67" y="723.75" width="16.17" height="27.85" fill="#8ec6f8"/>
<rect x="581.43" y="723.75" width="16.17" height="27.85" fill="#2c7ce8"/>
<rect x="597.20" y="723.75" width="16.17" height="27.85" fill="#4896f0"/>
<rect x="612.96" y="723.75" width="16.17" height="27.85" fill="#a8e0fa"/>
<rect x="628.73" y="723.75" width="16.17" height="27.85" fill="#ffffff"/>
<rect x="644.50" y="723.75" width="16.17" height="27.85" fill="#969696"/>
<rect x="660.26" y="723.75" width="16.17" height="27.85" fill="#3ccc3c"/>
<rect x="676.03" y="723.75" width="31.93" height="27.85" fill="#88e880"/>
<rect x="707.56" y="723.75" width="16.17" height="27.85" fill="#68e060"/>
<rect x="723.33" y="723.75" width="16.17" height="27.85" fill="#88e880"/>
<rect x="739.09" y="723.75" width="16.17" height="27.85" fill="#48d848"/>
<rect x="754.86" y="723.75" width="16.17" height="27.85" fill="#8ec6f8"/>
<rect x="770.62" y="723.75" width="16.17" height="27.85" fill="#4896f0"/>
<rect x="786.39" y="723.75" width="16.17" height="27.85" fill="#1c60d0"/>
<rect x="802.16" y="723.75" width="16.17" height="27.85" fill="#bebebe"/>
<rect x="817.92" y="723.75" width="16.17" height="27.85" fill="#1c60d0"/>
<rect x="833.69" y="723.75" width="16.17" height="27.85" fill="#68e060"/>
<rect x="849.46" y="723.75" width="16.17" height="27.85" fill="#88e880"/>
<rect x="865.22" y="723.75" width="16.17" height="27.85" fill="#a8e0fa"/>
<rect x="880.99" y="723.75" width="16.17" height="27.85" fill="#bebebe"/>
<rect x="896.75" y="723.75" width="16.17" height="27.85" fill="#b8f6b0"/>
<rect x="912.52" y="723.75" width="16.17" height="27.85" fill="#fff4a0"/>
<rect x="928.29" y="723.75" width="16.17" height="27.85" fill="#b8f6b0"/>
<rect x="944.05" y="723.75" width="16.17" height="27.85" fill="#68e060"/>
<rect x="959.82" y="723.75" width="16.17" height="27.85" fill="#30c030"/>
<rect x="975.58" y="723.75" width="16.17" height="27.85" fill="#969696"/>
<rect x="991.35" y="723.75" width="15.77" height="27.85" fill="#ffffff"/>
<rect x="37.50" y="723.75" width="977.50" height="27.85" fill="none" stroke="#000" stroke-width="1.4"/>
<text x="53.27" y="742.20" font-size="11.8" text-anchor="middle" fill="#000" font-weight="bold" textLength="11.40" lengthAdjust="spacingAndGlyphs" stroke="#000" stroke-width="0.3">12</text>
<text x="69.03" y="742.20" font-size="11.8" text-anchor="middle" fill="#000" font-weight="bold" textLength="11.40" lengthAdjust="spacingAndGlyphs" stroke="#000" stroke-width="0.3">10</text>
<text x="84.80" y="742.20" font-size="11.8" text-anchor="middle" fill="#000" font-weight="bold" textLength="5.60" lengthAdjust="spacingAndGlyphs" stroke="#000" stroke-width="0.3">2</text>
<text x="100.56" y="742.20" font-size="11.8" text-anchor="middle" fill="#000" font-weight="bold" textLength="11.40" lengthAdjust="spacingAndGlyphs" stroke="#000" stroke-width="0.3">33</text>
<text x="116.33" y="742.20" font-size="11.8" text-anchor="middle" fill="#000" font-weight="bold" textLength="11.40" lengthAdjust="spacingAndGlyphs" stroke="#000" stroke-width="0.3">28</text>
<text x="132.10" y="742.20" font-size="11.8" text-anchor="middle" fill="#000" font-weight="bold" textLength="11.40" lengthAdjust="spacingAndGlyphs" stroke="#000" stroke-width="0.3">26</text>
<text x="147.86" y="742.20" font-size="11.8" text-anchor="middle" fill="#000" font-weight="bold" textLength="11.40" lengthAdjust="spacingAndGlyphs" stroke="#000" stroke-width="0.3">14</text>
<text x="163.63" y="742.20" font-size="11.8" text-anchor="middle" fill="#000" font-weight="bold" textLength="11.40" lengthAdjust="spacingAndGlyphs" stroke="#000" stroke-width="0.3">19</text>
<text x="179.40" y="742.20" font-size="11.8" text-anchor="middle" fill="#000" font-weight="bold" textLength="11.40" lengthAdjust="spacingAndGlyphs" stroke="#000" stroke-width="0.3">15</text>
<text x="195.16" y="742.20" font-size="11.8" text-anchor="middle" fill="#000" font-weight="bold" textLength="11.40" lengthAdjust="spacingAndGlyphs" stroke="#000" stroke-width="0.3">13</text>
<text x="210.93" y="742.20" font-size="11.8" text-anchor="middle" fill="#000" font-weight="bold" textLength="5.60" lengthAdjust="spacingAndGlyphs" stroke="#000" stroke-width="0.3">4</text>
<text x="226.69" y="742.20" font-size="11.8" text-anchor="middle" fill="#000" font-weight="bold" textLength="5.60" lengthAdjust="spacingAndGlyphs" stroke="#000" stroke-width="0.3">2</text>
<text x="242.46" y="742.20" font-size="11.8" text-anchor="middle" fill="#000" font-weight="bold" textLength="5.60" lengthAdjust="spacingAndGlyphs" stroke="#000" stroke-width="0.3">1</text>
<text x="258.23" y="742.20" font-size="11.8" text-anchor="middle" fill="#000" font-weight="bold" textLength="5.60" lengthAdjust="spacingAndGlyphs" stroke="#000" stroke-width="0.3">7</text>
<text x="273.99" y="742.20" font-size="11.8" text-anchor="middle" fill="#000" font-weight="bold" textLength="5.60" lengthAdjust="spacingAndGlyphs" stroke="#000" stroke-width="0.3">9</text>
<text x="289.76" y="742.20" font-size="11.8" text-anchor="middle" fill="#000" font-weight="bold" textLength="11.40" lengthAdjust="spacingAndGlyphs" stroke="#000" stroke-width="0.3">14</text>
<text x="305.52" y="742.20" font-size="11.8" text-anchor="middle" fill="#000" font-weight="bold" textLength="11.40" lengthAdjust="spacingAndGlyphs" stroke="#000" stroke-width="0.3">10</text>
<text x="321.29" y="742.20" font-size="11.8" text-anchor="middle" fill="#000" font-weight="bold" textLength="11.40" lengthAdjust="spacingAndGlyphs" stroke="#000" stroke-width="0.3">27</text>
<text x="337.06" y="742.20" font-size="11.8" text-anchor="middle" fill="#000" font-weight="bold" textLength="11.40" lengthAdjust="spacingAndGlyphs" stroke="#000" stroke-width="0.3">28</text>
<text x="352.82" y="742.20" font-size="11.8" text-anchor="middle" fill="#000" font-weight="bold" textLength="11.40" lengthAdjust="spacingAndGlyphs" stroke="#000" stroke-width="0.3">28</text>
<text x="368.59" y="742.20" font-size="11.8" text-anchor="middle" fill="#000" font-weight="bold" textLength="11.40" lengthAdjust="spacingAndGlyphs" stroke="#000" stroke-width="0.3">32</text>
<text x="384.35" y="742.20" font-size="11.8" text-anchor="middle" fill="#000" font-weight="bold" textLength="11.40" lengthAdjust="spacingAndGlyphs" stroke="#000" stroke-width="0.3">37</text>
<text x="400.12" y="742.20" font-size="11.8" text-anchor="middle" fill="#000" font-weight="bold" textLength="11.40" lengthAdjust="spacingAndGlyphs" stroke="#000" stroke-width="0.3">38</text>
<text x="415.89" y="742.20" font-size="11.8" text-anchor="middle" fill="#000" font-weight="bold" textLength="11.40" lengthAdjust="spacingAndGlyphs" stroke="#000" stroke-width="0.3">40</text>
<text x="431.65" y="742.20" font-size="11.8" text-anchor="middle" fill="#000" font-weight="bold" textLength="11.40" lengthAdjust="spacingAndGlyphs" stroke="#000" stroke-width="0.3">40</text>
<text x="447.42" y="742.20" font-size="11.8" text-anchor="middle" fill="#000" font-weight="bold" textLength="11.40" lengthAdjust="spacingAndGlyphs" stroke="#000" stroke-width="0.3">36</text>
<text x="463.19" y="742.20" font-size="11.8" text-anchor="middle" fill="#000" font-weight="bold" textLength="11.40" lengthAdjust="spacingAndGlyphs" stroke="#000" stroke-width="0.3">32</text>
<text x="478.95" y="742.20" font-size="11.8" text-anchor="middle" fill="#000" font-weight="bold" textLength="11.40" lengthAdjust="spacingAndGlyphs" stroke="#000" stroke-width="0.3">27</text>
<text x="494.72" y="742.20" font-size="11.8" text-anchor="middle" fill="#000" font-weight="bold" textLength="11.40" lengthAdjust="spacingAndGlyphs" stroke="#000" stroke-width="0.3">31</text>
<text x="510.48" y="742.20" font-size="11.8" text-anchor="middle" fill="#000" font-weight="bold" textLength="11.40" lengthAdjust="spacingAndGlyphs" stroke="#000" stroke-width="0.3">30</text>
<text x="526.25" y="742.20" font-size="11.8" text-anchor="middle" fill="#000" font-weight="bold" textLength="11.40" lengthAdjust="spacingAndGlyphs" stroke="#000" stroke-width="0.3">29</text>
<text x="542.02" y="742.20" font-size="11.8" text-anchor="middle" fill="#000" font-weight="bold" textLength="11.40" lengthAdjust="spacingAndGlyphs" stroke="#000" stroke-width="0.3">22</text>
<text x="557.78" y="742.20" font-size="11.8" text-anchor="middle" fill="#000" font-weight="bold" textLength="11.40" lengthAdjust="spacingAndGlyphs" stroke="#000" stroke-width="0.3">19</text>
<text x="573.55" y="742.20" font-size="11.8" text-anchor="middle" fill="#000" font-weight="bold" textLength="11.40" lengthAdjust="spacingAndGlyphs" stroke="#000" stroke-width="0.3">17</text>
<text x="589.31" y="742.20" font-size="11.8" text-anchor="middle" fill="#000" font-weight="bold" textLength="11.40" lengthAdjust="spacingAndGlyphs" stroke="#000" stroke-width="0.3">14</text>
<text x="605.08" y="742.20" font-size="11.8" text-anchor="middle" fill="#000" font-weight="bold" textLength="11.40" lengthAdjust="spacingAndGlyphs" stroke="#000" stroke-width="0.3">15</text>
<text x="620.85" y="742.20" font-size="11.8" text-anchor="middle" fill="#000" font-weight="bold" textLength="11.40" lengthAdjust="spacingAndGlyphs" stroke="#000" stroke-width="0.3">19</text>
<text x="636.61" y="742.20" font-size="11.8" text-anchor="middle" fill="#000" font-weight="bold" textLength="5.60" lengthAdjust="spacingAndGlyphs" stroke="#000" stroke-width="0.3">3</text>
<text x="652.38" y="742.20" font-size="11.8" text-anchor="middle" fill="#000" font-weight="bold" textLength="5.60" lengthAdjust="spacingAndGlyphs" stroke="#000" stroke-width="0.3">8</text>
<text x="668.15" y="742.20" font-size="11.8" text-anchor="middle" fill="#000" font-weight="bold" textLength="11.40" lengthAdjust="spacingAndGlyphs" stroke="#000" stroke-width="0.3">22</text>
<text x="683.91" y="742.20" font-size="11.8" text-anchor="middle" fill="#000" font-weight="bold" textLength="11.40" lengthAdjust="spacingAndGlyphs" stroke="#000" stroke-width="0.3">28</text>
<text x="699.68" y="742.20" font-size="11.8" text-anchor="middle" fill="#000" font-weight="bold" textLength="11.40" lengthAdjust="spacingAndGlyphs" stroke="#000" stroke-width="0.3">29</text>
<text x="715.44" y="742.20" font-size="11.8" text-anchor="middle" fill="#000" font-weight="bold" textLength="11.40" lengthAdjust="spacingAndGlyphs" stroke="#000" stroke-width="0.3">25</text>
<text x="731.21" y="742.20" font-size="11.8" text-anchor="middle" fill="#000" font-weight="bold" textLength="11.40" lengthAdjust="spacingAndGlyphs" stroke="#000" stroke-width="0.3">29</text>
<text x="746.98" y="742.20" font-size="11.8" text-anchor="middle" fill="#000" font-weight="bold" textLength="11.40" lengthAdjust="spacingAndGlyphs" stroke="#000" stroke-width="0.3">24</text>
<text x="762.74" y="742.20" font-size="11.8" text-anchor="middle" fill="#000" font-weight="bold" textLength="11.40" lengthAdjust="spacingAndGlyphs" stroke="#000" stroke-width="0.3">18</text>
<text x="778.51" y="742.20" font-size="11.8" text-anchor="middle" fill="#000" font-weight="bold" textLength="11.40" lengthAdjust="spacingAndGlyphs" stroke="#000" stroke-width="0.3">15</text>
<text x="794.27" y="742.20" font-size="11.8" text-anchor="middle" fill="#000" font-weight="bold" textLength="11.40" lengthAdjust="spacingAndGlyphs" stroke="#000" stroke-width="0.3">11</text>
<text x="810.04" y="742.20" font-size="11.8" text-anchor="middle" fill="#000" font-weight="bold" textLength="5.60" lengthAdjust="spacingAndGlyphs" stroke="#000" stroke-width="0.3">6</text>
<text x="825.81" y="742.20" font-size="11.8" text-anchor="middle" fill="#000" font-weight="bold" textLength="11.40" lengthAdjust="spacingAndGlyphs" stroke="#000" stroke-width="0.3">11</text>
<text x="841.57" y="742.20" font-size="11.8" text-anchor="middle" fill="#000" font-weight="bold" textLength="11.40" lengthAdjust="spacingAndGlyphs" stroke="#000" stroke-width="0.3">25</text>
<text x="857.34" y="742.20" font-size="11.8" text-anchor="middle" fill="#000" font-weight="bold" textLength="11.40" lengthAdjust="spacingAndGlyphs" stroke="#000" stroke-width="0.3">29</text>
<text x="873.10" y="742.20" font-size="11.8" text-anchor="middle" fill="#000" font-weight="bold" textLength="11.40" lengthAdjust="spacingAndGlyphs" stroke="#000" stroke-width="0.3">19</text>
<text x="888.87" y="742.20" font-size="11.8" text-anchor="middle" fill="#000" font-weight="bold" textLength="5.60" lengthAdjust="spacingAndGlyphs" stroke="#000" stroke-width="0.3">6</text>
<text x="904.64" y="742.20" font-size="11.8" text-anchor="middle" fill="#000" font-weight="bold" textLength="11.40" lengthAdjust="spacingAndGlyphs" stroke="#000" stroke-width="0.3">32</text>
<text x="920.40" y="742.20" font-size="11.8" text-anchor="middle" fill="#000" font-weight="bold" textLength="11.40" lengthAdjust="spacingAndGlyphs" stroke="#000" stroke-width="0.3">37</text>
<text x="936.17" y="742.20" font-size="11.8" text-anchor="middle" fill="#000" font-weight="bold" textLength="11.40" lengthAdjust="spacingAndGlyphs" stroke="#000" stroke-width="0.3">32</text>
<text x="951.94" y="742.20" font-size="11.8" text-anchor="middle" fill="#000" font-weight="bold" textLength="11.40" lengthAdjust="spacingAndGlyphs" stroke="#000" stroke-width="0.3">26</text>
<text x="967.70" y="742.20" font-size="11.8" text-anchor="middle" fill="#000" font-weight="bold" textLength="11.40" lengthAdjust="spacingAndGlyphs" stroke="#000" stroke-width="0.3">22</text>
<text x="983.47" y="742.20" font-size="11.8" text-anchor="middle" fill="#000" font-weight="bold" textLength="11.40" lengthAdjust="spacingAndGlyphs" stroke="#000" stroke-width="0.3">10</text>
<text x="999.23" y="742.20" font-size="11.8" text-anchor="middle" fill="#000" font-weight="bold" textLength="5.60" lengthAdjust="spacingAndGlyphs" stroke="#000" stroke-width="0.3">2</text>
<text x="32.40" y="738.70" font-size="9.3" text-anchor="end" fill="#000" font-weight="bold" textLength="19.80" lengthAdjust="spacingAndGlyphs" stroke="#000" stroke-width="0.3">GUST</text>
<line x1="53.27" y1="756.80" x2="53.27" y2="764.80" stroke="#000" stroke-width="1.4"/>
<line x1="100.56" y1="756.80" x2="100.56" y2="764.80" stroke="#000" stroke-width="1.4"/>
<line x1="147.86" y1="756.80" x2="147.86" y2="764.80" stroke="#000" stroke-width="1.4"/>
<line x1="195.16" y1="756.80" x2="195.16" y2="764.80" stroke="#000" stroke-width="1.4"/>
<line x1="242.46" y1="756.80" x2="242.46" y2="764.80" stroke="#000" stroke-width="1.4"/>
<line x1="289.76" y1="756.80" x2="289.76" y2="764.80" stroke="#000" stroke-width="1.4"/>
<line x1="337.06" y1="756.80" x2="337.06" y2="764.80" stroke="#000" stroke-width="1.4"/>
<line x1="384.35" y1="756.80" x2="384.35" y2="764.80" stroke="#000" stroke-width="1.4"/>
<line x1="431.65" y1="756.80" x2="431.65" y2="764.80" stroke="#000" stroke-width="1.4"/>
<line x1="478.95" y1="756.80" x2="478.95" y2="764.80" stroke="#000" stroke-width="1.4"/>
<line x1="526.25" y1="756.80" x2="526.25" y2="764.80" stroke="#000" stroke-width="1.4"/>
<line x1="573.55" y1="756.80" x2="573.55" y2="764.80" stroke="#000" stroke-width="1.4"/>
<line x1="620.85" y1="756.80" x2="620.85" y2="764.80" stroke="#000" stroke-width="1.4"/>
<line x1="668.15" y1="756.80" x2="668.15" y2="764.80" stroke="#000" stroke-width="1.4"/>
<line x1="715.44" y1="756.80" x2="715.44" y2="764.80" stroke="#000" stroke-width="1.4"/>
<line x1="762.74" y1="756.80" x2="762.74" y2="764.80" stroke="#000" stroke-width="1.4"/>
<line x1="810.04" y1="756.80" x2="810.04" y2="764.80" stroke="#000" stroke-width="1.4"/>
<line x1="857.34" y1="756.80" x2="857.34" y2="764.80" stroke="#000" stroke-width="1.4"/>
<line x1="904.64" y1="756.80" x2="904.64" y2="764.80" stroke="#000" stroke-width="1.4"/>
<line x1="951.94" y1="756.80" x2="951.94" y2="764.80" stroke="#000" stroke-width="1.4"/>
<line x1="999.23" y1="756.80" x2="999.23" y2="764.80" stroke="#000" stroke-width="1.4"/>
<text x="53.27" y="775.30" font-size="9.9" text-anchor="middle" fill="#000" font-weight="bold" textLength="25.80" lengthAdjust="spacingAndGlyphs" stroke="#000" stroke-width="0.3">20/18</text>
<text x="53.27" y="787.90" font-size="10.4" text-anchor="middle" fill="#000" font-weight="bold" textLength="13.50" lengthAdjust="spacingAndGlyphs" stroke="#000" stroke-width="0.3">Fri</text>
<text x="100.56" y="775.30" font-size="9.9" text-anchor="middle" fill="#000" font-weight="bold" textLength="25.80" lengthAdjust="spacingAndGlyphs" stroke="#000" stroke-width="0.3">21/03</text>
<text x="100.56" y="787.90" font-size="10.4" text-anchor="middle" fill="#000" font-weight="bold" textLength="17.00" lengthAdjust="spacingAndGlyphs" stroke="#000" stroke-width="0.3">Sat</text>
<text x="147.86" y="775.30" font-size="9.9" text-anchor="middle" fill="#000" font-weight="bold" textLength="25.80" lengthAdjust="spacingAndGlyphs" stroke="#000" stroke-width="0.3">21/12</text>
<text x="147.86" y="787.90" font-size="10.4" text-anchor="middle" fill="#000" font-weight="bold" textLength="17.00" lengthAdjust="spacingAndGlyphs" stroke="#000" stroke-width="0.3">Sat</text>
<text x="195.16" y="775.30" font-size="9.9" text-anchor="middle" fill="#000" font-weight="bold" textLength="25.80" lengthAdjust="spacingAndGlyphs" stroke="#000" stroke-width="0.3">21/21</text>
<text x="195.16" y="787.90" font-size="10.4" text-anchor="middle" fill="#000" font-weight="bold" textLength="17.00" lengthAdjust="spacingAndGlyphs" stroke="#000" stroke-width="0.3">Sat</text>
<text x="242.46" y="775.30" font-size="9.9" text-anchor="middle" fill="#000" font-weight="bold" textLength="25.80" lengthAdjust="spacingAndGlyphs" stroke="#000" stroke-width="0.3">22/06</text>
<text x="242.46" y="787.90" font-size="10.4" text-anchor="middle" fill="#000" font-weight="bold" textLength="19.50" lengthAdjust="spacingAndGlyphs" stroke="#000" stroke-width="0.3">Sun</text>
<text x="289.76" y="775.30" font-size="9.9" text-anchor="middle" fill="#000" font-weight="bold" textLength="25.80" lengthAdjust="spacingAndGlyphs" stroke="#000" stroke-width="0.3">22/15</text>
<text x="289.76" y="787.90" font-size="10.4" text-anchor="middle" fill="#000" font-weight="bold" textLength="19.50" lengthAdjust="spacingAndGlyphs" stroke="#000" stroke-width="0.3">Sun</text>
<text x="337.06" y="775.30" font-size="9.9" text-anchor="middle" fill="#000" font-weight="bold" textLength="25.80" lengthAdjust="spacingAndGlyphs" stroke="#000" stroke-width="0.3">23/00</text>
<text x="337.06" y="787.90" font-size="10.4" text-anchor="middle" fill="#000" font-weight="bold" textLength="21.00" lengthAdjust="spacingAndGlyphs" stroke="#000" stroke-width="0.3">Mon</text>
<text x="384.35" y="775.30" font-size="9.9" text-anchor="middle" fill="#000" font-weight="bold" textLength="25.80" lengthAdjust="spacingAndGlyphs" stroke="#000" stroke-width="0.3">23/09</text>
<text x="384.35" y="787.90" font-size="10.4" text-anchor="middle" fill="#000" font-weight="bold" textLength="21.00" lengthAdjust="spacingAndGlyphs" stroke="#000" stroke-width="0.3">Mon</text>
<text x="431.65" y="775.30" font-size="9.9" text-anchor="middle" fill="#000" font-weight="bold" textLength="25.80" lengthAdjust="spacingAndGlyphs" stroke="#000" stroke-width="0.3">23/18</text>
<text x="431.65" y="787.90" font-size="10.4" text-anchor="middle" fill="#000" font-weight="bold" textLength="21.00" lengthAdjust="spacingAndGlyphs" stroke="#000" stroke-width="0.3">Mon</text>
<text x="478.95" y="775.30" font-size="9.9" text-anchor="middle" fill="#000" font-weight="bold" textLength="25.80" lengthAdjust="spacingAndGlyphs" stroke="#000" stroke-width="0.3">24/03</text>
<text x="478.95" y="787.90" font-size="10.4" text-anchor="middle" fill="#000" font-weight="bold" textLength="17.50" lengthAdjust="spacingAndGlyphs" stroke="#000" stroke-width="0.3">Tue</text>
<text x="526.25" y="775.30" font-size="9.9" text-anchor="middle" fill="#000" font-weight="bold" textLength="25.80" lengthAdjust="spacingAndGlyphs" stroke="#000" stroke-width="0.3">24/12</text>
<text x="526.25" y="787.90" font-size="10.4" text-anchor="middle" fill="#000" font-weight="bold" textLength="17.50" lengthAdjust="spacingAndGlyphs" stroke="#000" stroke-width="0.3">Tue</text>
<text x="573.55" y="775.30" font-size="9.9" text-anchor="middle" fill="#000" font-weight="bold" textLength="25.80" lengthAdjust="spacingAndGlyphs" stroke="#000" stroke-width="0.3">24/21</text>
<text x="573.55" y="787.90" font-size="10.4" text-anchor="middle" fill="#000" font-weight="bold" textLength="17.50" lengthAdjust="spacingAndGlyphs" stroke="#000" stroke-width="0.3">Tue</text>
<text x="620.85" y="775.30" font-size="9.9" text-anchor="middle" fill="#000" font-weight="bold" textLength="25.80" lengthAdjust="spacingAndGlyphs" stroke="#000" stroke-width="0.3">25/06</text>
<text x="620.85" y="787.90" font-size="10.4" text-anchor="middle" fill="#000" font-weight="bold" textLength="21.00" lengthAdjust="spacingAndGlyphs" stroke="#000" stroke-width="0.3">Wed</text>
<text x="668.15" y="775.30" font-size="9.9" text-anchor="middle" fill="#000" font-weight="bold" textLength="25.80" lengthAdjust="spacingAndGlyphs" stroke="#000" stroke-width="0.3">25/15</text>
<text x="668.15" y="787.90" font-size="10.4" text-anchor="middle" fill="#000" font-weight="bold" textLength="21.00" lengthAdjust="spacingAndGlyphs" stroke="#000" stroke-width="0.3">Wed</text>
<text x="715.44" y="775.30" font-size="9.9" text-anchor="middle" fill="#000" font-weight="bold" textLength="25.80" lengthAdjust="spacingAndGlyphs" stroke="#000" stroke-width="0.3">26/00</text>
<text x="715.44" y="787.90" font-size="10.4" text-anchor="middle" fill="#000" font-weight="bold" textLength="18.50" lengthAdjust="spacingAndGlyphs" stroke="#000" stroke-width="0.3">Thu</text>
<text x="762.74" y="775.30" font-size="9.9" text-anchor="middle" fill="#000" font-weight="bold" textLength="25.80" lengthAdjust="spacingAndGlyphs" stroke="#000" stroke-width="0.3">26/09</text>
<text x="762.74" y="787.90" font-size="10.4" text-anchor="middle" fill="#000" font-weight="bold" textLength="18.50" lengthAdjust="spacingAndGlyphs" stroke="#000" stroke-width="0.3">Thu</text>
<text x="810.04" y="775.30" font-size="9.9" text-anchor="middle" fill="#000" font-weight="bold" textLength="25.80" lengthAdjust="spacingAndGlyphs" stroke="#000" stroke-width="0.3">26/18</text>
<text x="810.04" y="787.90" font-size="10.4" text-anchor="middle" fill="#000" font-weight="bold" textLength="18.50" lengthAdjust="spacingAndGlyphs" stroke="#000" stroke-width="0.3">Thu</text>
<text x="857.34" y="775.30" font-size="9.9" text-anchor="middle" fill="#000" font-weight="bold" textLength="25.80" lengthAdjust="spacingAndGlyphs" stroke="#000" stroke-width="0.3">27/03</text>
<text x="857.34" y="787.90" font-size="10.4" text-anchor="middle" fill="#000" font-weight="bold" textLength="13.50" lengthAdjust="spacingAndGlyphs" stroke="#000" stroke-width="0.3">Fri</text>
<text x="904.64" y="775.30" font-size="9.9" text-anchor="middle" fill="#000" font-weight="bold" textLength="25.80" lengthAdjust="spacingAndGlyphs" stroke="#000" stroke-width="0.3">27/12</text>
<text x="904.64" y="787.90" font-size="10.4" text-anchor="middle" fill="#000" font-weight="bold" textLength="13.50" lengthAdjust="spacingAndGlyphs" stroke="#000" stroke-width="0.3">Fri</text>
<text x="951.94" y="775.30" font-size="9.9" text-anchor="middle" fill="#000" font-weight="bold" textLength="25.80" lengthAdjust="spacingAndGlyphs" stroke="#000" stroke-width="0.3">27/21</text>
<text x="951.94" y="787.90" font-size="10.4" text-anchor="middle" fill="#000" font-weight="bold" textLength="13.50" lengthAdjust="spacingAndGlyphs" stroke="#000" stroke-width="0.3">Fri</text>
<text x="999.23" y="775.30" font-size="9.9" text-anchor="middle" fill="#000" font-weight="bold" textLength="25.80" lengthAdjust="spacingAndGlyphs" stroke="#000" stroke-width="0.3">28/06</text>
<text x="999.23" y="787.90" font-size="10.4" text-anchor="middle" fill="#000" font-weight="bold" textLength="17.00" lengthAdjust="spacingAndGlyphs" stroke="#000" stroke-width="0.3">Sat</text>
</svg>
</body>
</html>
